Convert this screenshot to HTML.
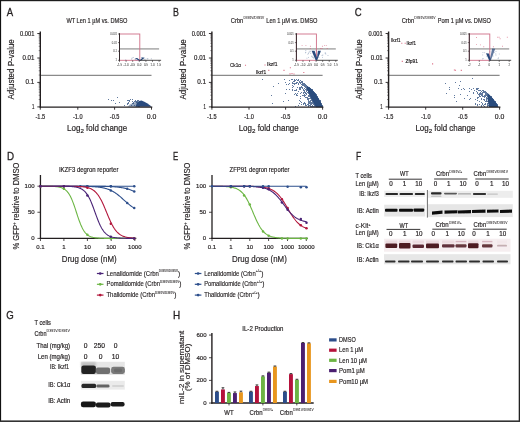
<!DOCTYPE html>
<html><head><meta charset="utf-8"><style>
html,body{margin:0;padding:0;background:#fff;width:520px;height:422px;overflow:hidden}
svg{display:block;will-change:transform}
text{font-family:"Liberation Sans", sans-serif}
</style></head><body>
<svg width="520" height="422" viewBox="0 0 520 422" font-family='"Liberation Sans", sans-serif' fill="#231f20">
<defs><filter id="bl" x="-20%" y="-60%" width="140%" height="220%"><feGaussianBlur stdDeviation="0.6"/></filter><filter id="b2" x="-20%" y="-20%" width="140%" height="140%"><feGaussianBlur stdDeviation="0.35"/></filter><filter id="b3" x="-20%" y="-20%" width="140%" height="140%"><feGaussianBlur stdDeviation="1.2"/></filter></defs>
<rect width="520" height="422" fill="#fff"/>
<line x1="40.30" y1="75.30" x2="151.50" y2="75.30" stroke="#8a8a8a" stroke-width="1.2"/>
<polygon points="127.5,106.8 130,104.5 134,102.5 137.5,101.3 139,106.8" fill="#2b4c7e" fill-opacity="0.5" filter="url(#b2)"/>
<polygon points="135.5,106.8 137,102.5 139,101 141.5,100.6 144.3,101.8 147.1,103.3 149.9,105.3 151.6,106.8" fill="#2b4c7e" filter="url(#b2)"/>
<path d="M137 100h1v1h-1zM128 103h1v1h-1zM134 105h1v1h-1zM139 103h1v1h-1zM134 105h1v1h-1zM132 99h1v1h-1zM129 100h1v1h-1zM139 106h1v1h-1zM127 103h1v1h-1zM124 105h1v1h-1zM138 103h1v1h-1zM132 103h1v1h-1zM138 102h1v1h-1zM134 101h1v1h-1zM139 103h1v1h-1zM132 103h1v1h-1zM133 103h1v1h-1zM135 100h1v1h-1zM132 101h1v1h-1zM127 103h1v1h-1zM127 104h1v1h-1zM135 101h1v1h-1zM136 101h1v1h-1zM130 99h1v1h-1zM131 105h1v1h-1zM137 101h1v1h-1zM136 105h1v1h-1zM128 100h1v1h-1zM136 102h1v1h-1zM129 101h1v1h-1zM138 100h1v1h-1zM138 106h1v1h-1zM138 104h1v1h-1zM137 103h1v1h-1zM127 100h1v1h-1zM138 103h1v1h-1zM133 102h1v1h-1zM138 102h1v1h-1zM128 102h1v1h-1zM136 105h1v1h-1zM119 102h1v1h-1zM117 97h1v1h-1zM115 103h1v1h-1zM108 99h1v1h-1zM111 100h1v1h-1zM113 100h1v1h-1zM117 97h1v1h-1z" fill="#2b4c7e" fill-opacity="0.75"/>
<path d="" fill="#d9607a" fill-opacity="0.9"/>
<line x1="40.30" y1="31.50" x2="40.30" y2="107.70" stroke="#231f20" stroke-width="1.4"/>
<line x1="37.30" y1="33.50" x2="40.30" y2="33.50" stroke="#231f20" stroke-width="0.9"/>
<text x="34.40" y="35.50" font-size="6.27" text-anchor="end" textLength="14.30" lengthAdjust="spacingAndGlyphs" stroke="#231f20" stroke-width="0.18">0.001</text>
<line x1="37.30" y1="58.00" x2="40.30" y2="58.00" stroke="#231f20" stroke-width="0.9"/>
<text x="34.40" y="60.00" font-size="6.27" text-anchor="end" textLength="11.90" lengthAdjust="spacingAndGlyphs" stroke="#231f20" stroke-width="0.18">0.01</text>
<line x1="37.30" y1="82.40" x2="40.30" y2="82.40" stroke="#231f20" stroke-width="0.9"/>
<text x="34.40" y="84.40" font-size="6.27" text-anchor="end" textLength="8.80" lengthAdjust="spacingAndGlyphs" stroke="#231f20" stroke-width="0.18">0.1</text>
<line x1="37.30" y1="106.90" x2="40.30" y2="106.90" stroke="#231f20" stroke-width="0.9"/>
<text x="34.40" y="108.90" font-size="6.27" text-anchor="end" textLength="2.40" lengthAdjust="spacingAndGlyphs" stroke="#231f20" stroke-width="0.18">1</text>
<line x1="38.70" y1="50.62" x2="40.30" y2="50.62" stroke="#231f20" stroke-width="0.5"/>
<line x1="38.70" y1="46.31" x2="40.30" y2="46.31" stroke="#231f20" stroke-width="0.5"/>
<line x1="38.70" y1="43.25" x2="40.30" y2="43.25" stroke="#231f20" stroke-width="0.5"/>
<line x1="38.70" y1="40.88" x2="40.30" y2="40.88" stroke="#231f20" stroke-width="0.5"/>
<line x1="38.70" y1="38.94" x2="40.30" y2="38.94" stroke="#231f20" stroke-width="0.5"/>
<line x1="38.70" y1="37.30" x2="40.30" y2="37.30" stroke="#231f20" stroke-width="0.5"/>
<line x1="38.70" y1="35.87" x2="40.30" y2="35.87" stroke="#231f20" stroke-width="0.5"/>
<line x1="38.70" y1="34.62" x2="40.30" y2="34.62" stroke="#231f20" stroke-width="0.5"/>
<line x1="38.70" y1="75.05" x2="40.30" y2="75.05" stroke="#231f20" stroke-width="0.5"/>
<line x1="38.70" y1="70.76" x2="40.30" y2="70.76" stroke="#231f20" stroke-width="0.5"/>
<line x1="38.70" y1="67.71" x2="40.30" y2="67.71" stroke="#231f20" stroke-width="0.5"/>
<line x1="38.70" y1="65.35" x2="40.30" y2="65.35" stroke="#231f20" stroke-width="0.5"/>
<line x1="38.70" y1="63.41" x2="40.30" y2="63.41" stroke="#231f20" stroke-width="0.5"/>
<line x1="38.70" y1="61.78" x2="40.30" y2="61.78" stroke="#231f20" stroke-width="0.5"/>
<line x1="38.70" y1="60.36" x2="40.30" y2="60.36" stroke="#231f20" stroke-width="0.5"/>
<line x1="38.70" y1="59.12" x2="40.30" y2="59.12" stroke="#231f20" stroke-width="0.5"/>
<line x1="38.70" y1="99.52" x2="40.30" y2="99.52" stroke="#231f20" stroke-width="0.5"/>
<line x1="38.70" y1="95.21" x2="40.30" y2="95.21" stroke="#231f20" stroke-width="0.5"/>
<line x1="38.70" y1="92.15" x2="40.30" y2="92.15" stroke="#231f20" stroke-width="0.5"/>
<line x1="38.70" y1="89.78" x2="40.30" y2="89.78" stroke="#231f20" stroke-width="0.5"/>
<line x1="38.70" y1="87.84" x2="40.30" y2="87.84" stroke="#231f20" stroke-width="0.5"/>
<line x1="38.70" y1="86.20" x2="40.30" y2="86.20" stroke="#231f20" stroke-width="0.5"/>
<line x1="38.70" y1="84.77" x2="40.30" y2="84.77" stroke="#231f20" stroke-width="0.5"/>
<line x1="38.70" y1="83.52" x2="40.30" y2="83.52" stroke="#231f20" stroke-width="0.5"/>
<line x1="39.80" y1="107.10" x2="152.30" y2="107.10" stroke="#231f20" stroke-width="1.3"/>
<line x1="40.30" y1="107.10" x2="40.30" y2="109.70" stroke="#231f20" stroke-width="0.9"/>
<text x="40.30" y="118.80" font-size="6.27" text-anchor="middle" textLength="9.60" lengthAdjust="spacingAndGlyphs" stroke="#231f20" stroke-width="0.18">-1.5</text>
<line x1="77.80" y1="107.10" x2="77.80" y2="109.70" stroke="#231f20" stroke-width="0.9"/>
<text x="77.80" y="118.80" font-size="6.27" text-anchor="middle" textLength="9.60" lengthAdjust="spacingAndGlyphs" stroke="#231f20" stroke-width="0.18">-1.0</text>
<line x1="114.60" y1="107.10" x2="114.60" y2="109.70" stroke="#231f20" stroke-width="0.9"/>
<text x="114.60" y="118.80" font-size="6.27" text-anchor="middle" textLength="9.60" lengthAdjust="spacingAndGlyphs" stroke="#231f20" stroke-width="0.18">-0.5</text>
<line x1="151.50" y1="107.10" x2="151.50" y2="109.70" stroke="#231f20" stroke-width="0.9"/>
<text x="151.50" y="118.80" font-size="6.27" text-anchor="middle" textLength="9.60" lengthAdjust="spacingAndGlyphs" stroke="#231f20" stroke-width="0.18">0.0</text>
<text x="67.10" y="130.7" font-size="9.3" fill="#231f20" stroke="#231f20" stroke-width="0.2"><tspan textLength="13.3" lengthAdjust="spacingAndGlyphs">Log</tspan><tspan font-size="6.2" dy="2.2">2</tspan><tspan dy="-2.2" textLength="43.2" lengthAdjust="spacingAndGlyphs"> fold change</tspan></text>
<text x="14.30" y="69.40" font-size="9.41" text-anchor="middle" textLength="60.40" lengthAdjust="spacingAndGlyphs" transform="rotate(-90 14.30 69.40)" stroke="#231f20" stroke-width="0.18">Adjusted P-value</text>
<text x="6.80" y="15.70" font-size="11.42" textLength="6.40" lengthAdjust="spacingAndGlyphs" stroke="#231f20" stroke-width="0.3">A</text>
<text x="66.40" y="22.90" font-size="7.39" textLength="60.90" lengthAdjust="spacingAndGlyphs" stroke="#231f20" stroke-width="0.18">WT Len 1 µM vs. DMSO</text>
<line x1="119.50" y1="48.90" x2="159.10" y2="48.90" stroke="#b4b4b4" stroke-width="1.6"/>
<path d="" fill="#d9607a" fill-opacity="0.7"/>
<rect x="119.50" y="34.0" width="20.30" height="26.3" fill="none" stroke="#cf6f88" stroke-width="0.9"/>
<path d="M134.8 58.3 L137.2 57.9 L140.2 60.3 L139.2 60.8 Z M142.6 57.5 L144.8 57.8 L140.8 60.8 L139.8 60.3 Z" fill="#2b4c7e" filter="url(#b2)"/><rect x="131.19" y="58.63" width="0.8" height="0.8" fill="#2b4c7e" fill-opacity="0.5"/><rect x="134.62" y="58.81" width="0.8" height="0.8" fill="#2b4c7e" fill-opacity="0.5"/><rect x="141.27" y="57.20" width="0.8" height="0.8" fill="#2b4c7e" fill-opacity="0.5"/><rect x="125.34" y="59.51" width="0.8" height="0.8" fill="#2b4c7e" fill-opacity="0.5"/><rect x="131.74" y="57.70" width="0.8" height="0.8" fill="#2b4c7e" fill-opacity="0.5"/><rect x="150.89" y="58.41" width="0.8" height="0.8" fill="#2b4c7e" fill-opacity="0.5"/><rect x="146.75" y="58.43" width="0.8" height="0.8" fill="#2b4c7e" fill-opacity="0.5"/><rect x="141.62" y="57.45" width="0.8" height="0.8" fill="#2b4c7e" fill-opacity="0.5"/><rect x="141.51" y="59.60" width="0.8" height="0.8" fill="#2b4c7e" fill-opacity="0.5"/><rect x="138.60" y="59.22" width="0.8" height="0.8" fill="#2b4c7e" fill-opacity="0.5"/><rect x="142.46" y="57.19" width="0.8" height="0.8" fill="#2b4c7e" fill-opacity="0.5"/><rect x="144.71" y="58.77" width="0.8" height="0.8" fill="#2b4c7e" fill-opacity="0.5"/><rect x="132.83" y="57.09" width="0.8" height="0.8" fill="#2b4c7e" fill-opacity="0.5"/><rect x="147.50" y="58.42" width="0.8" height="0.8" fill="#2b4c7e" fill-opacity="0.5"/><rect x="143.69" y="59.64" width="0.8" height="0.8" fill="#2b4c7e" fill-opacity="0.5"/><rect x="143.57" y="59.76" width="0.8" height="0.8" fill="#2b4c7e" fill-opacity="0.5"/><rect x="135.27" y="59.40" width="0.8" height="0.8" fill="#2b4c7e" fill-opacity="0.5"/><rect x="136.56" y="59.81" width="0.8" height="0.8" fill="#2b4c7e" fill-opacity="0.5"/>
<line x1="119.50" y1="33.20" x2="119.50" y2="60.60" stroke="#231f20" stroke-width="0.9"/>
<line x1="118.00" y1="34.00" x2="119.50" y2="34.00" stroke="#231f20" stroke-width="0.6"/>
<line x1="118.00" y1="42.60" x2="119.50" y2="42.60" stroke="#231f20" stroke-width="0.6"/>
<line x1="118.00" y1="51.20" x2="119.50" y2="51.20" stroke="#231f20" stroke-width="0.6"/>
<line x1="118.00" y1="60.30" x2="119.50" y2="60.30" stroke="#231f20" stroke-width="0.6"/>
<text x="116.90" y="34.90" font-size="2.69" text-anchor="end" fill="#666" stroke="#666" stroke-width="0.06">0.001</text>
<text x="116.90" y="43.50" font-size="2.69" text-anchor="end" fill="#666" stroke="#666" stroke-width="0.06">0.01</text>
<text x="116.90" y="52.10" font-size="2.69" text-anchor="end" fill="#666" stroke="#666" stroke-width="0.06">0.1</text>
<text x="116.90" y="61.20" font-size="2.69" text-anchor="end" fill="#666" stroke="#666" stroke-width="0.06">1</text>
<line x1="139.80" y1="60.30" x2="161.10" y2="60.30" stroke="#231f20" stroke-width="0.8"/>
<line x1="119.50" y1="60.30" x2="119.50" y2="61.90" stroke="#231f20" stroke-width="0.6"/>
<text x="119.50" y="66.40" font-size="2.91" text-anchor="middle" fill="#555" stroke="#555" stroke-width="0.06">-1.5</text>
<line x1="126.10" y1="60.30" x2="126.10" y2="61.90" stroke="#231f20" stroke-width="0.6"/>
<text x="126.10" y="66.40" font-size="2.91" text-anchor="middle" fill="#555" stroke="#555" stroke-width="0.06">-1.0</text>
<line x1="132.70" y1="60.30" x2="132.70" y2="61.90" stroke="#231f20" stroke-width="0.6"/>
<text x="132.70" y="66.40" font-size="2.91" text-anchor="middle" fill="#555" stroke="#555" stroke-width="0.06">-0.5</text>
<line x1="139.30" y1="60.30" x2="139.30" y2="61.90" stroke="#231f20" stroke-width="0.6"/>
<text x="139.30" y="66.40" font-size="2.91" text-anchor="middle" fill="#555" stroke="#555" stroke-width="0.06">0.0</text>
<line x1="145.90" y1="60.30" x2="145.90" y2="61.90" stroke="#231f20" stroke-width="0.6"/>
<text x="145.90" y="66.40" font-size="2.91" text-anchor="middle" fill="#555" stroke="#555" stroke-width="0.06">0.5</text>
<line x1="152.50" y1="60.30" x2="152.50" y2="61.90" stroke="#231f20" stroke-width="0.6"/>
<text x="152.50" y="66.40" font-size="2.91" text-anchor="middle" fill="#555" stroke="#555" stroke-width="0.06">1.0</text>
<line x1="159.10" y1="60.30" x2="159.10" y2="61.90" stroke="#231f20" stroke-width="0.6"/>
<text x="159.10" y="66.40" font-size="2.91" text-anchor="middle" fill="#555" stroke="#555" stroke-width="0.06">1.5</text>
<line x1="211.90" y1="75.30" x2="322.60" y2="75.30" stroke="#8a8a8a" stroke-width="1.2"/>
<polygon points="307,86.2 309,87 312,89.5 315,93 318,97.5 320.5,101.5 322.8,107.2 316,107.2 313,102 310.5,97 308.5,92.5 306.8,89" fill="#2b4c7e" filter="url(#b2)"/>
<path d="M300 80h1v1h-1zM317 102h1v1h-1zM307 87h1v1h-1zM315 96h1v1h-1zM318 98h1v1h-1zM314 96h1v1h-1zM310 91h1v1h-1zM315 98h1v1h-1zM310 105h1v1h-1zM317 100h1v1h-1zM313 101h1v1h-1zM311 94h1v1h-1zM319 100h1v1h-1zM295 83h1v1h-1zM314 105h1v1h-1zM319 104h1v1h-1zM305 85h1v1h-1zM309 89h1v1h-1zM310 88h1v1h-1zM315 100h1v1h-1zM320 103h1v1h-1zM308 93h1v1h-1zM304 84h1v1h-1zM315 95h1v1h-1zM315 95h1v1h-1zM309 89h1v1h-1zM317 101h1v1h-1zM320 105h1v1h-1zM319 102h1v1h-1zM301 86h1v1h-1zM318 99h1v1h-1zM318 102h1v1h-1zM312 91h1v1h-1zM307 97h1v1h-1zM307 104h1v1h-1zM313 100h1v1h-1zM318 105h1v1h-1zM317 97h1v1h-1zM316 96h1v1h-1zM320 103h1v1h-1zM319 104h1v1h-1zM314 99h1v1h-1zM315 97h1v1h-1zM298 83h1v1h-1zM312 99h1v1h-1zM308 88h1v1h-1zM317 103h1v1h-1zM308 88h1v1h-1zM294 81h1v1h-1zM318 99h1v1h-1zM316 101h1v1h-1zM314 94h1v1h-1zM311 100h1v1h-1zM297 95h1v1h-1zM308 98h1v1h-1zM311 99h1v1h-1zM314 97h1v1h-1zM310 91h1v1h-1zM313 96h1v1h-1zM321 105h1v1h-1zM319 101h1v1h-1zM311 89h1v1h-1zM308 98h1v1h-1zM316 98h1v1h-1zM313 102h1v1h-1zM314 92h1v1h-1zM315 98h1v1h-1zM314 97h1v1h-1zM318 100h1v1h-1zM319 104h1v1h-1zM316 95h1v1h-1zM304 84h1v1h-1zM312 90h1v1h-1zM299 82h1v1h-1zM298 80h1v1h-1zM295 90h1v1h-1zM303 85h1v1h-1zM310 88h1v1h-1zM311 99h1v1h-1zM307 87h1v1h-1zM318 101h1v1h-1zM322 105h1v1h-1zM298 79h1v1h-1zM294 80h1v1h-1zM303 104h1v1h-1zM318 102h1v1h-1zM315 104h1v1h-1zM310 89h1v1h-1zM318 100h1v1h-1zM319 100h1v1h-1zM309 103h1v1h-1zM316 99h1v1h-1zM317 105h1v1h-1zM297 82h1v1h-1zM306 85h1v1h-1zM317 96h1v1h-1zM314 93h1v1h-1zM285 82h1v1h-1zM309 96h1v1h-1zM316 103h1v1h-1zM304 91h1v1h-1zM310 92h1v1h-1zM313 99h1v1h-1zM314 95h1v1h-1zM319 106h1v1h-1zM308 106h1v1h-1zM300 93h1v1h-1zM308 104h1v1h-1zM298 84h1v1h-1zM310 96h1v1h-1zM318 99h1v1h-1zM294 81h1v1h-1zM319 106h1v1h-1zM310 91h1v1h-1zM319 103h1v1h-1zM294 79h1v1h-1zM315 93h1v1h-1zM306 88h1v1h-1zM312 90h1v1h-1zM319 101h1v1h-1zM314 94h1v1h-1zM318 103h1v1h-1zM317 101h1v1h-1zM314 93h1v1h-1zM313 94h1v1h-1zM305 93h1v1h-1zM312 96h1v1h-1zM314 94h1v1h-1zM304 96h1v1h-1zM319 102h1v1h-1zM320 105h1v1h-1zM311 89h1v1h-1zM302 84h1v1h-1zM320 105h1v1h-1zM310 92h1v1h-1zM310 105h1v1h-1zM317 97h1v1h-1zM296 83h1v1h-1zM305 103h1v1h-1zM315 93h1v1h-1zM307 86h1v1h-1zM320 104h1v1h-1zM320 106h1v1h-1zM315 105h1v1h-1zM307 87h1v1h-1zM312 94h1v1h-1zM316 102h1v1h-1zM320 104h1v1h-1zM321 105h1v1h-1zM307 86h1v1h-1zM311 106h1v1h-1zM292 82h1v1h-1zM311 98h1v1h-1zM308 91h1v1h-1zM309 89h1v1h-1zM312 105h1v1h-1zM304 86h1v1h-1zM313 99h1v1h-1zM310 91h1v1h-1zM310 93h1v1h-1zM320 102h1v1h-1zM301 102h1v1h-1zM307 89h1v1h-1zM311 103h1v1h-1zM317 98h1v1h-1zM312 93h1v1h-1zM315 95h1v1h-1zM301 82h1v1h-1zM304 86h1v1h-1zM315 104h1v1h-1zM308 102h1v1h-1zM320 103h1v1h-1zM320 101h1v1h-1zM302 84h1v1h-1zM310 93h1v1h-1zM317 97h1v1h-1zM321 106h1v1h-1zM322 106h1v1h-1zM303 92h1v1h-1zM317 101h1v1h-1zM314 93h1v1h-1zM319 102h1v1h-1zM318 106h1v1h-1zM294 84h1v1h-1zM309 96h1v1h-1zM314 104h1v1h-1zM303 84h1v1h-1zM299 87h1v1h-1zM309 105h1v1h-1zM311 90h1v1h-1zM318 102h1v1h-1zM310 89h1v1h-1zM309 88h1v1h-1zM310 95h1v1h-1zM313 95h1v1h-1zM316 102h1v1h-1zM309 98h1v1h-1zM295 106h1v1h-1zM308 92h1v1h-1zM312 95h1v1h-1zM317 102h1v1h-1zM317 102h1v1h-1zM298 84h1v1h-1zM304 94h1v1h-1zM299 103h1v1h-1zM319 102h1v1h-1zM315 99h1v1h-1zM310 94h1v1h-1zM315 94h1v1h-1zM309 94h1v1h-1zM316 95h1v1h-1zM310 92h1v1h-1zM300 83h1v1h-1zM318 104h1v1h-1zM310 90h1v1h-1zM312 92h1v1h-1zM317 105h1v1h-1zM313 93h1v1h-1zM315 106h1v1h-1zM315 104h1v1h-1zM316 99h1v1h-1zM315 106h1v1h-1zM313 99h1v1h-1zM316 95h1v1h-1zM318 102h1v1h-1zM286 84h1v1h-1zM312 99h1v1h-1zM317 97h1v1h-1zM321 103h1v1h-1zM286 89h1v1h-1zM310 95h1v1h-1zM318 98h1v1h-1zM297 93h1v1h-1zM307 88h1v1h-1zM319 101h1v1h-1zM311 90h1v1h-1zM311 94h1v1h-1zM308 87h1v1h-1zM306 88h1v1h-1zM316 99h1v1h-1zM301 87h1v1h-1zM301 92h1v1h-1zM313 95h1v1h-1zM319 106h1v1h-1zM301 92h1v1h-1zM309 90h1v1h-1zM308 87h1v1h-1zM300 96h1v1h-1zM298 84h1v1h-1zM292 79h1v1h-1zM315 104h1v1h-1zM312 94h1v1h-1zM314 95h1v1h-1zM316 99h1v1h-1zM320 105h1v1h-1zM309 88h1v1h-1zM315 95h1v1h-1zM304 84h1v1h-1zM304 92h1v1h-1zM313 94h1v1h-1zM313 99h1v1h-1zM307 86h1v1h-1zM310 92h1v1h-1zM310 91h1v1h-1zM310 104h1v1h-1zM300 101h1v1h-1zM316 104h1v1h-1zM312 105h1v1h-1zM320 104h1v1h-1zM310 90h1v1h-1zM321 104h1v1h-1zM319 105h1v1h-1zM321 106h1v1h-1zM320 103h1v1h-1zM310 105h1v1h-1zM309 88h1v1h-1zM313 94h1v1h-1zM305 93h1v1h-1zM313 104h1v1h-1zM288 84h1v1h-1zM317 104h1v1h-1zM293 86h1v1h-1zM307 90h1v1h-1zM316 95h1v1h-1zM306 94h1v1h-1zM308 88h1v1h-1zM313 94h1v1h-1zM312 100h1v1h-1zM313 92h1v1h-1zM318 102h1v1h-1zM309 89h1v1h-1zM311 92h1v1h-1zM304 86h1v1h-1zM310 102h1v1h-1zM319 106h1v1h-1zM304 94h1v1h-1zM293 81h1v1h-1zM315 98h1v1h-1zM315 105h1v1h-1zM312 99h1v1h-1zM317 98h1v1h-1zM311 97h1v1h-1zM307 86h1v1h-1zM318 104h1v1h-1zM302 87h1v1h-1zM319 100h1v1h-1zM317 104h1v1h-1zM312 90h1v1h-1zM312 97h1v1h-1zM313 95h1v1h-1zM306 93h1v1h-1zM305 84h1v1h-1zM316 94h1v1h-1zM289 83h1v1h-1zM320 101h1v1h-1zM313 91h1v1h-1zM318 100h1v1h-1zM313 96h1v1h-1zM318 102h1v1h-1zM310 88h1v1h-1zM294 83h1v1h-1zM310 95h1v1h-1zM310 96h1v1h-1zM319 101h1v1h-1zM300 98h1v1h-1zM307 86h1v1h-1zM310 100h1v1h-1zM306 89h1v1h-1zM308 103h1v1h-1zM314 98h1v1h-1zM306 89h1v1h-1zM310 92h1v1h-1zM311 103h1v1h-1zM312 103h1v1h-1zM318 100h1v1h-1zM310 97h1v1h-1zM299 88h1v1h-1zM313 97h1v1h-1zM295 93h1v1h-1zM319 103h1v1h-1zM319 101h1v1h-1zM316 99h1v1h-1zM311 95h1v1h-1zM317 105h1v1h-1zM313 102h1v1h-1zM315 96h1v1h-1zM313 96h1v1h-1zM313 101h1v1h-1zM319 100h1v1h-1zM316 101h1v1h-1zM311 92h1v1h-1zM319 103h1v1h-1zM309 101h1v1h-1zM294 90h1v1h-1zM315 100h1v1h-1zM318 102h1v1h-1zM314 95h1v1h-1zM321 106h1v1h-1zM298 84h1v1h-1zM312 101h1v1h-1zM312 90h1v1h-1zM316 98h1v1h-1zM317 102h1v1h-1zM320 103h1v1h-1zM310 88h1v1h-1zM316 96h1v1h-1zM316 102h1v1h-1zM317 103h1v1h-1zM312 90h1v1h-1zM310 103h1v1h-1zM321 105h1v1h-1zM315 101h1v1h-1zM302 95h1v1h-1zM308 87h1v1h-1zM318 101h1v1h-1zM303 85h1v1h-1zM298 83h1v1h-1zM305 105h1v1h-1zM314 97h1v1h-1zM311 95h1v1h-1zM313 104h1v1h-1zM316 106h1v1h-1zM313 95h1v1h-1zM304 103h1v1h-1zM313 95h1v1h-1zM310 102h1v1h-1zM302 83h1v1h-1zM308 95h1v1h-1zM302 84h1v1h-1zM320 100h1v1h-1zM321 105h1v1h-1zM312 97h1v1h-1zM317 105h1v1h-1zM312 96h1v1h-1zM314 97h1v1h-1zM313 99h1v1h-1zM320 106h1v1h-1zM313 106h1v1h-1zM311 95h1v1h-1zM318 103h1v1h-1zM301 81h1v1h-1zM319 102h1v1h-1zM320 102h1v1h-1zM309 102h1v1h-1zM318 101h1v1h-1zM312 91h1v1h-1zM313 96h1v1h-1zM303 90h1v1h-1zM319 103h1v1h-1zM320 104h1v1h-1zM296 94h1v1h-1zM315 106h1v1h-1zM304 90h1v1h-1zM318 104h1v1h-1zM319 104h1v1h-1zM288 100h1v1h-1zM314 102h1v1h-1zM312 95h1v1h-1zM297 87h1v1h-1zM292 89h1v1h-1zM308 88h1v1h-1zM308 102h1v1h-1zM299 82h1v1h-1zM304 85h1v1h-1zM318 103h1v1h-1zM319 102h1v1h-1zM321 106h1v1h-1zM319 102h1v1h-1zM320 101h1v1h-1zM314 97h1v1h-1zM319 102h1v1h-1zM310 88h1v1h-1zM292 82h1v1h-1zM296 90h1v1h-1zM320 105h1v1h-1zM306 86h1v1h-1zM313 95h1v1h-1zM298 91h1v1h-1zM319 100h1v1h-1zM311 91h1v1h-1zM306 93h1v1h-1zM312 91h1v1h-1zM316 97h1v1h-1zM314 96h1v1h-1zM316 101h1v1h-1zM313 96h1v1h-1zM313 92h1v1h-1zM319 101h1v1h-1zM310 90h1v1h-1zM312 95h1v1h-1zM315 105h1v1h-1zM300 88h1v1h-1zM316 104h1v1h-1zM316 106h1v1h-1zM319 102h1v1h-1zM313 94h1v1h-1zM315 102h1v1h-1zM316 96h1v1h-1zM310 95h1v1h-1zM306 90h1v1h-1zM315 95h1v1h-1zM312 91h1v1h-1zM320 101h1v1h-1zM317 102h1v1h-1zM312 100h1v1h-1zM320 105h1v1h-1zM314 104h1v1h-1zM314 93h1v1h-1zM308 87h1v1h-1zM317 99h1v1h-1zM298 105h1v1h-1zM313 101h1v1h-1zM321 104h1v1h-1zM308 87h1v1h-1zM315 95h1v1h-1zM320 105h1v1h-1zM308 96h1v1h-1zM308 87h1v1h-1zM318 99h1v1h-1zM312 102h1v1h-1zM321 105h1v1h-1zM317 103h1v1h-1zM311 94h1v1h-1zM317 106h1v1h-1zM318 102h1v1h-1zM319 104h1v1h-1zM312 89h1v1h-1zM318 99h1v1h-1zM306 94h1v1h-1zM316 97h1v1h-1zM318 105h1v1h-1zM305 87h1v1h-1zM301 104h1v1h-1zM318 100h1v1h-1zM316 101h1v1h-1zM311 102h1v1h-1zM321 105h1v1h-1zM317 104h1v1h-1zM321 106h1v1h-1zM320 101h1v1h-1zM310 101h1v1h-1zM314 94h1v1h-1zM318 104h1v1h-1zM313 103h1v1h-1zM313 92h1v1h-1zM301 84h1v1h-1zM310 93h1v1h-1zM304 91h1v1h-1zM315 98h1v1h-1zM319 105h1v1h-1zM308 100h1v1h-1zM314 98h1v1h-1zM313 96h1v1h-1zM305 86h1v1h-1zM304 95h1v1h-1zM311 92h1v1h-1zM306 91h1v1h-1zM321 106h1v1h-1zM301 81h1v1h-1zM319 105h1v1h-1zM310 106h1v1h-1zM315 94h1v1h-1zM307 87h1v1h-1zM289 80h1v1h-1zM318 102h1v1h-1zM316 100h1v1h-1zM308 88h1v1h-1zM316 103h1v1h-1zM314 96h1v1h-1zM309 95h1v1h-1zM313 102h1v1h-1zM315 100h1v1h-1zM313 98h1v1h-1zM307 98h1v1h-1zM315 94h1v1h-1zM314 97h1v1h-1zM314 92h1v1h-1zM319 102h1v1h-1zM307 87h1v1h-1zM319 104h1v1h-1zM317 99h1v1h-1zM317 100h1v1h-1zM310 97h1v1h-1zM315 100h1v1h-1zM305 84h1v1h-1zM312 105h1v1h-1zM319 103h1v1h-1zM306 89h1v1h-1zM316 96h1v1h-1zM306 97h1v1h-1zM312 100h1v1h-1zM317 97h1v1h-1zM315 99h1v1h-1zM304 102h1v1h-1zM320 106h1v1h-1zM313 101h1v1h-1zM308 88h1v1h-1zM314 98h1v1h-1zM310 92h1v1h-1zM302 81h1v1h-1zM303 95h1v1h-1zM319 101h1v1h-1zM311 93h1v1h-1zM318 99h1v1h-1zM307 99h1v1h-1zM314 93h1v1h-1zM292 85h1v1h-1zM303 93h1v1h-1zM317 99h1v1h-1zM316 97h1v1h-1zM313 97h1v1h-1zM313 95h1v1h-1zM313 101h1v1h-1zM317 97h1v1h-1zM308 88h1v1h-1zM303 83h1v1h-1zM310 93h1v1h-1zM306 105h1v1h-1zM319 100h1v1h-1zM317 101h1v1h-1zM291 79h1v1h-1zM312 98h1v1h-1zM313 101h1v1h-1zM311 106h1v1h-1zM317 97h1v1h-1zM311 104h1v1h-1zM303 84h1v1h-1zM305 89h1v1h-1zM310 90h1v1h-1zM318 106h1v1h-1zM305 92h1v1h-1zM316 95h1v1h-1zM304 86h1v1h-1zM314 92h1v1h-1zM310 89h1v1h-1zM308 87h1v1h-1zM307 92h1v1h-1zM317 97h1v1h-1zM320 104h1v1h-1zM316 97h1v1h-1zM317 98h1v1h-1zM318 99h1v1h-1zM316 106h1v1h-1zM321 106h1v1h-1zM302 82h1v1h-1zM318 103h1v1h-1zM316 99h1v1h-1zM316 102h1v1h-1zM302 88h1v1h-1zM299 81h1v1h-1zM311 91h1v1h-1zM321 104h1v1h-1zM316 97h1v1h-1zM313 91h1v1h-1zM311 90h1v1h-1zM317 100h1v1h-1zM301 86h1v1h-1zM317 104h1v1h-1zM319 103h1v1h-1zM293 83h1v1h-1zM315 101h1v1h-1zM311 93h1v1h-1zM317 97h1v1h-1zM312 106h1v1h-1zM315 98h1v1h-1zM317 102h1v1h-1zM315 99h1v1h-1zM309 93h1v1h-1zM306 91h1v1h-1zM319 105h1v1h-1zM296 89h1v1h-1zM306 89h1v1h-1zM292 87h1v1h-1zM309 88h1v1h-1zM300 89h1v1h-1zM305 104h1v1h-1zM308 105h1v1h-1zM299 89h1v1h-1zM316 95h1v1h-1zM315 93h1v1h-1zM308 101h1v1h-1zM308 89h1v1h-1zM312 94h1v1h-1zM284 79h1v1h-1zM314 100h1v1h-1zM304 90h1v1h-1zM309 87h1v1h-1zM321 104h1v1h-1zM313 94h1v1h-1zM317 100h1v1h-1zM311 104h1v1h-1zM294 94h1v1h-1zM296 79h1v1h-1zM308 95h1v1h-1zM306 87h1v1h-1zM316 100h1v1h-1zM316 95h1v1h-1zM312 97h1v1h-1zM319 102h1v1h-1zM312 98h1v1h-1zM314 95h1v1h-1zM315 97h1v1h-1zM320 102h1v1h-1zM302 88h1v1h-1zM306 91h1v1h-1zM310 102h1v1h-1zM311 102h1v1h-1zM292 90h1v1h-1zM308 90h1v1h-1zM312 95h1v1h-1zM305 95h1v1h-1zM317 101h1v1h-1zM314 99h1v1h-1zM304 84h1v1h-1zM320 104h1v1h-1zM315 97h1v1h-1zM318 99h1v1h-1zM320 101h1v1h-1zM307 88h1v1h-1zM320 103h1v1h-1zM314 94h1v1h-1zM312 96h1v1h-1zM315 94h1v1h-1zM315 98h1v1h-1zM317 104h1v1h-1zM318 105h1v1h-1zM318 101h1v1h-1zM308 89h1v1h-1zM314 106h1v1h-1zM300 93h1v1h-1zM321 105h1v1h-1zM318 104h1v1h-1zM295 80h1v1h-1zM316 98h1v1h-1zM311 90h1v1h-1zM316 96h1v1h-1zM320 102h1v1h-1zM310 89h1v1h-1zM314 93h1v1h-1zM319 102h1v1h-1zM309 87h1v1h-1zM311 95h1v1h-1zM319 102h1v1h-1zM300 87h1v1h-1zM318 98h1v1h-1zM308 99h1v1h-1zM310 96h1v1h-1zM308 95h1v1h-1zM310 88h1v1h-1zM316 96h1v1h-1zM320 103h1v1h-1zM312 105h1v1h-1zM319 104h1v1h-1zM320 103h1v1h-1zM309 98h1v1h-1zM317 105h1v1h-1zM302 85h1v1h-1zM312 91h1v1h-1zM319 106h1v1h-1zM296 82h1v1h-1zM304 85h1v1h-1zM312 91h1v1h-1zM310 88h1v1h-1zM313 93h1v1h-1zM319 104h1v1h-1zM315 93h1v1h-1zM315 101h1v1h-1zM314 100h1v1h-1zM314 94h1v1h-1zM311 92h1v1h-1zM312 105h1v1h-1zM310 91h1v1h-1zM300 82h1v1h-1zM312 98h1v1h-1zM304 83h1v1h-1zM303 103h1v1h-1zM304 88h1v1h-1zM317 102h1v1h-1zM299 88h1v1h-1zM320 104h1v1h-1zM314 103h1v1h-1zM306 90h1v1h-1zM317 97h1v1h-1zM297 80h1v1h-1zM305 97h1v1h-1zM314 105h1v1h-1zM310 98h1v1h-1zM315 104h1v1h-1zM317 97h1v1h-1zM303 89h1v1h-1zM317 104h1v1h-1zM299 81h1v1h-1zM316 98h1v1h-1zM313 92h1v1h-1zM302 83h1v1h-1zM315 106h1v1h-1zM318 101h1v1h-1zM311 102h1v1h-1zM312 95h1v1h-1zM315 103h1v1h-1zM289 89h1v1h-1zM271 95h1v1h-1zM299 100h1v1h-1zM292 83h1v1h-1zM273 86h1v1h-1zM283 101h1v1h-1zM285 93h1v1h-1zM278 83h1v1h-1zM272 103h1v1h-1zM296 95h1v1h-1zM288 84h1v1h-1zM262 79h1v1h-1z" fill="#2b4c7e" fill-opacity="0.75"/>
<path d="M244.95 64.65h1.1v1.1h-1.1zM264.45 64.45h1.1v1.1h-1.1zM268.25 69.85h1.1v1.1h-1.1zM283.45 69.85h1.1v1.1h-1.1zM289.85 67.25h1.1v1.1h-1.1zM289.45 73.35h1.1v1.1h-1.1zM293.45 73.45h1.1v1.1h-1.1zM291.45 72.95h1.1v1.1h-1.1zM303.25 71.95h1.1v1.1h-1.1z" fill="#d9607a" fill-opacity="0.9"/>
<line x1="211.90" y1="31.50" x2="211.90" y2="107.70" stroke="#231f20" stroke-width="1.4"/>
<line x1="208.90" y1="33.50" x2="211.90" y2="33.50" stroke="#231f20" stroke-width="0.9"/>
<text x="206.00" y="35.50" font-size="6.27" text-anchor="end" textLength="14.30" lengthAdjust="spacingAndGlyphs" stroke="#231f20" stroke-width="0.18">0.001</text>
<line x1="208.90" y1="58.00" x2="211.90" y2="58.00" stroke="#231f20" stroke-width="0.9"/>
<text x="206.00" y="60.00" font-size="6.27" text-anchor="end" textLength="11.90" lengthAdjust="spacingAndGlyphs" stroke="#231f20" stroke-width="0.18">0.01</text>
<line x1="208.90" y1="82.40" x2="211.90" y2="82.40" stroke="#231f20" stroke-width="0.9"/>
<text x="206.00" y="84.40" font-size="6.27" text-anchor="end" textLength="8.80" lengthAdjust="spacingAndGlyphs" stroke="#231f20" stroke-width="0.18">0.1</text>
<line x1="208.90" y1="106.90" x2="211.90" y2="106.90" stroke="#231f20" stroke-width="0.9"/>
<text x="206.00" y="108.90" font-size="6.27" text-anchor="end" textLength="2.40" lengthAdjust="spacingAndGlyphs" stroke="#231f20" stroke-width="0.18">1</text>
<line x1="210.30" y1="50.62" x2="211.90" y2="50.62" stroke="#231f20" stroke-width="0.5"/>
<line x1="210.30" y1="46.31" x2="211.90" y2="46.31" stroke="#231f20" stroke-width="0.5"/>
<line x1="210.30" y1="43.25" x2="211.90" y2="43.25" stroke="#231f20" stroke-width="0.5"/>
<line x1="210.30" y1="40.88" x2="211.90" y2="40.88" stroke="#231f20" stroke-width="0.5"/>
<line x1="210.30" y1="38.94" x2="211.90" y2="38.94" stroke="#231f20" stroke-width="0.5"/>
<line x1="210.30" y1="37.30" x2="211.90" y2="37.30" stroke="#231f20" stroke-width="0.5"/>
<line x1="210.30" y1="35.87" x2="211.90" y2="35.87" stroke="#231f20" stroke-width="0.5"/>
<line x1="210.30" y1="34.62" x2="211.90" y2="34.62" stroke="#231f20" stroke-width="0.5"/>
<line x1="210.30" y1="75.05" x2="211.90" y2="75.05" stroke="#231f20" stroke-width="0.5"/>
<line x1="210.30" y1="70.76" x2="211.90" y2="70.76" stroke="#231f20" stroke-width="0.5"/>
<line x1="210.30" y1="67.71" x2="211.90" y2="67.71" stroke="#231f20" stroke-width="0.5"/>
<line x1="210.30" y1="65.35" x2="211.90" y2="65.35" stroke="#231f20" stroke-width="0.5"/>
<line x1="210.30" y1="63.41" x2="211.90" y2="63.41" stroke="#231f20" stroke-width="0.5"/>
<line x1="210.30" y1="61.78" x2="211.90" y2="61.78" stroke="#231f20" stroke-width="0.5"/>
<line x1="210.30" y1="60.36" x2="211.90" y2="60.36" stroke="#231f20" stroke-width="0.5"/>
<line x1="210.30" y1="59.12" x2="211.90" y2="59.12" stroke="#231f20" stroke-width="0.5"/>
<line x1="210.30" y1="99.52" x2="211.90" y2="99.52" stroke="#231f20" stroke-width="0.5"/>
<line x1="210.30" y1="95.21" x2="211.90" y2="95.21" stroke="#231f20" stroke-width="0.5"/>
<line x1="210.30" y1="92.15" x2="211.90" y2="92.15" stroke="#231f20" stroke-width="0.5"/>
<line x1="210.30" y1="89.78" x2="211.90" y2="89.78" stroke="#231f20" stroke-width="0.5"/>
<line x1="210.30" y1="87.84" x2="211.90" y2="87.84" stroke="#231f20" stroke-width="0.5"/>
<line x1="210.30" y1="86.20" x2="211.90" y2="86.20" stroke="#231f20" stroke-width="0.5"/>
<line x1="210.30" y1="84.77" x2="211.90" y2="84.77" stroke="#231f20" stroke-width="0.5"/>
<line x1="210.30" y1="83.52" x2="211.90" y2="83.52" stroke="#231f20" stroke-width="0.5"/>
<line x1="211.40" y1="107.10" x2="323.40" y2="107.10" stroke="#231f20" stroke-width="1.3"/>
<line x1="211.90" y1="107.10" x2="211.90" y2="109.70" stroke="#231f20" stroke-width="0.9"/>
<text x="211.90" y="118.80" font-size="6.27" text-anchor="middle" textLength="9.60" lengthAdjust="spacingAndGlyphs" stroke="#231f20" stroke-width="0.18">-1.5</text>
<line x1="249.00" y1="107.10" x2="249.00" y2="109.70" stroke="#231f20" stroke-width="0.9"/>
<text x="249.00" y="118.80" font-size="6.27" text-anchor="middle" textLength="9.60" lengthAdjust="spacingAndGlyphs" stroke="#231f20" stroke-width="0.18">-1.0</text>
<line x1="285.60" y1="107.10" x2="285.60" y2="109.70" stroke="#231f20" stroke-width="0.9"/>
<text x="285.60" y="118.80" font-size="6.27" text-anchor="middle" textLength="9.60" lengthAdjust="spacingAndGlyphs" stroke="#231f20" stroke-width="0.18">-0.5</text>
<line x1="322.60" y1="107.10" x2="322.60" y2="109.70" stroke="#231f20" stroke-width="0.9"/>
<text x="322.60" y="118.80" font-size="6.27" text-anchor="middle" textLength="9.60" lengthAdjust="spacingAndGlyphs" stroke="#231f20" stroke-width="0.18">0.0</text>
<text x="238.70" y="130.7" font-size="9.3" fill="#231f20" stroke="#231f20" stroke-width="0.2"><tspan textLength="13.3" lengthAdjust="spacingAndGlyphs">Log</tspan><tspan font-size="6.2" dy="2.2">2</tspan><tspan dy="-2.2" textLength="43.2" lengthAdjust="spacingAndGlyphs"> fold change</tspan></text>
<text x="186.00" y="69.40" font-size="9.41" text-anchor="middle" textLength="60.40" lengthAdjust="spacingAndGlyphs" transform="rotate(-90 186.00 69.40)" stroke="#231f20" stroke-width="0.18">Adjusted P-value</text>
<text x="229.90" y="66.80" font-size="6.05" textLength="11.20" lengthAdjust="spacingAndGlyphs" stroke="#231f20" stroke-width="0.18">Ck1α</text>
<text x="267.00" y="65.80" font-size="6.05" textLength="10.50" lengthAdjust="spacingAndGlyphs" stroke="#231f20" stroke-width="0.18">Ikzf1</text>
<text x="255.80" y="73.60" font-size="6.05" textLength="10.40" lengthAdjust="spacingAndGlyphs" stroke="#231f20" stroke-width="0.18">Ikzf1</text>
<text x="172.90" y="15.90" font-size="11.42" textLength="5.90" lengthAdjust="spacingAndGlyphs" stroke="#231f20" stroke-width="0.3">B</text>
<text x="230.80" y="22.60" font-size="7.39" textLength="12.50" lengthAdjust="spacingAndGlyphs" stroke="#231f20" stroke-width="0.18">Crbn</text>
<text x="243.50" y="19.00" font-size="3.81" textLength="20.80" lengthAdjust="spacingAndGlyphs" stroke="#231f20" stroke-width="0.06">D391V/D391V</text>
<text x="266.30" y="22.60" font-size="7.39" textLength="51.00" lengthAdjust="spacingAndGlyphs" stroke="#231f20" stroke-width="0.18">Len 1 µM vs. DMSO</text>
<line x1="296.40" y1="48.90" x2="335.80" y2="48.90" stroke="#b4b4b4" stroke-width="1.6"/>
<path d="M301.65 44.95h0.9v0.9h-0.9zM305.45 44.95h0.9v0.9h-0.9zM309.95 45.75h0.9v0.9h-0.9zM309.85 48.05h0.9v0.9h-0.9zM320.25 48.05h0.9v0.9h-0.9zM321.55 48.05h0.9v0.9h-0.9zM321.95 45.75h0.9v0.9h-0.9zM324.15 44.95h0.9v0.9h-0.9zM325.85 44.95h0.9v0.9h-0.9zM326.75 48.05h0.9v0.9h-0.9z" fill="#d9607a" fill-opacity="0.7"/>
<rect x="296.40" y="34.0" width="20.00" height="26.3" fill="none" stroke="#cf6f88" stroke-width="0.9"/>
<path d="M311.60 50.80 L314.60 50.80 L317.00 57.80 L317.90 50.80 L320.90 50.80 L317.20 60.30 L315.60 60.30 Z" fill="#2b4c7e" filter="url(#b2)"/><rect x="305.41" y="51.83" width="0.8" height="0.8" fill="#2b4c7e" fill-opacity="0.45"/><rect x="327.57" y="55.19" width="0.8" height="0.8" fill="#2b4c7e" fill-opacity="0.45"/><rect x="310.07" y="50.82" width="0.8" height="0.8" fill="#2b4c7e" fill-opacity="0.45"/><rect x="305.40" y="50.12" width="0.8" height="0.8" fill="#2b4c7e" fill-opacity="0.45"/><rect x="308.12" y="53.03" width="0.8" height="0.8" fill="#2b4c7e" fill-opacity="0.45"/><rect x="308.58" y="52.06" width="0.8" height="0.8" fill="#2b4c7e" fill-opacity="0.45"/><rect x="319.38" y="51.16" width="0.8" height="0.8" fill="#2b4c7e" fill-opacity="0.45"/><rect x="308.13" y="56.95" width="0.8" height="0.8" fill="#2b4c7e" fill-opacity="0.45"/><rect x="311.45" y="55.66" width="0.8" height="0.8" fill="#2b4c7e" fill-opacity="0.45"/><rect x="311.55" y="56.27" width="0.8" height="0.8" fill="#2b4c7e" fill-opacity="0.45"/><rect x="305.23" y="52.43" width="0.8" height="0.8" fill="#2b4c7e" fill-opacity="0.45"/><rect x="324.88" y="52.63" width="0.8" height="0.8" fill="#2b4c7e" fill-opacity="0.45"/><rect x="319.64" y="51.90" width="0.8" height="0.8" fill="#2b4c7e" fill-opacity="0.45"/><rect x="307.46" y="53.82" width="0.8" height="0.8" fill="#2b4c7e" fill-opacity="0.45"/><rect x="315.53" y="50.32" width="0.8" height="0.8" fill="#2b4c7e" fill-opacity="0.45"/><rect x="317.15" y="53.81" width="0.8" height="0.8" fill="#2b4c7e" fill-opacity="0.45"/><rect x="313.26" y="56.83" width="0.8" height="0.8" fill="#2b4c7e" fill-opacity="0.45"/><rect x="325.43" y="53.67" width="0.8" height="0.8" fill="#2b4c7e" fill-opacity="0.45"/><rect x="312.01" y="56.94" width="0.8" height="0.8" fill="#2b4c7e" fill-opacity="0.45"/><rect x="322.45" y="54.61" width="0.8" height="0.8" fill="#2b4c7e" fill-opacity="0.45"/><rect x="319.12" y="53.07" width="0.8" height="0.8" fill="#2b4c7e" fill-opacity="0.45"/><rect x="321.67" y="55.20" width="0.8" height="0.8" fill="#2b4c7e" fill-opacity="0.45"/><rect x="324.76" y="52.70" width="0.8" height="0.8" fill="#2b4c7e" fill-opacity="0.45"/><rect x="306.53" y="57.79" width="0.8" height="0.8" fill="#2b4c7e" fill-opacity="0.45"/><rect x="318.48" y="57.22" width="0.8" height="0.8" fill="#2b4c7e" fill-opacity="0.45"/><rect x="322.17" y="56.94" width="0.8" height="0.8" fill="#2b4c7e" fill-opacity="0.45"/><rect x="313.29" y="57.78" width="0.8" height="0.8" fill="#2b4c7e" fill-opacity="0.45"/><rect x="319.19" y="53.67" width="0.8" height="0.8" fill="#2b4c7e" fill-opacity="0.45"/><rect x="308.86" y="50.86" width="0.8" height="0.8" fill="#2b4c7e" fill-opacity="0.45"/><rect x="310.30" y="52.88" width="0.8" height="0.8" fill="#2b4c7e" fill-opacity="0.45"/>
<line x1="296.40" y1="33.20" x2="296.40" y2="60.60" stroke="#231f20" stroke-width="0.9"/>
<line x1="294.90" y1="34.00" x2="296.40" y2="34.00" stroke="#231f20" stroke-width="0.6"/>
<line x1="294.90" y1="42.60" x2="296.40" y2="42.60" stroke="#231f20" stroke-width="0.6"/>
<line x1="294.90" y1="51.20" x2="296.40" y2="51.20" stroke="#231f20" stroke-width="0.6"/>
<line x1="294.90" y1="60.30" x2="296.40" y2="60.30" stroke="#231f20" stroke-width="0.6"/>
<text x="293.80" y="34.90" font-size="2.69" text-anchor="end" fill="#666" stroke="#666" stroke-width="0.06">0.001</text>
<text x="293.80" y="43.50" font-size="2.69" text-anchor="end" fill="#666" stroke="#666" stroke-width="0.06">0.01</text>
<text x="293.80" y="52.10" font-size="2.69" text-anchor="end" fill="#666" stroke="#666" stroke-width="0.06">0.1</text>
<text x="293.80" y="61.20" font-size="2.69" text-anchor="end" fill="#666" stroke="#666" stroke-width="0.06">1</text>
<line x1="316.40" y1="60.30" x2="337.80" y2="60.30" stroke="#231f20" stroke-width="0.8"/>
<line x1="296.40" y1="60.30" x2="296.40" y2="61.90" stroke="#231f20" stroke-width="0.6"/>
<text x="296.40" y="66.40" font-size="2.91" text-anchor="middle" fill="#555" stroke="#555" stroke-width="0.06">-1.5</text>
<line x1="302.97" y1="60.30" x2="302.97" y2="61.90" stroke="#231f20" stroke-width="0.6"/>
<text x="302.97" y="66.40" font-size="2.91" text-anchor="middle" fill="#555" stroke="#555" stroke-width="0.06">-1.0</text>
<line x1="309.53" y1="60.30" x2="309.53" y2="61.90" stroke="#231f20" stroke-width="0.6"/>
<text x="309.53" y="66.40" font-size="2.91" text-anchor="middle" fill="#555" stroke="#555" stroke-width="0.06">-0.5</text>
<line x1="316.10" y1="60.30" x2="316.10" y2="61.90" stroke="#231f20" stroke-width="0.6"/>
<text x="316.10" y="66.40" font-size="2.91" text-anchor="middle" fill="#555" stroke="#555" stroke-width="0.06">0.0</text>
<line x1="322.67" y1="60.30" x2="322.67" y2="61.90" stroke="#231f20" stroke-width="0.6"/>
<text x="322.67" y="66.40" font-size="2.91" text-anchor="middle" fill="#555" stroke="#555" stroke-width="0.06">0.5</text>
<line x1="329.23" y1="60.30" x2="329.23" y2="61.90" stroke="#231f20" stroke-width="0.6"/>
<text x="329.23" y="66.40" font-size="2.91" text-anchor="middle" fill="#555" stroke="#555" stroke-width="0.06">1.0</text>
<line x1="335.80" y1="60.30" x2="335.80" y2="61.90" stroke="#231f20" stroke-width="0.6"/>
<text x="335.80" y="66.40" font-size="2.91" text-anchor="middle" fill="#555" stroke="#555" stroke-width="0.06">1.5</text>
<line x1="388.60" y1="75.30" x2="499.60" y2="75.30" stroke="#8a8a8a" stroke-width="1.2"/>
<polygon points="487.5,93.6 488.5,93.8 492,97.5 495.5,101.8 498.6,106.9 489,107 487.5,99" fill="#2b4c7e" filter="url(#b2)"/>
<path d="M493 106h1v1h-1zM493 104h1v1h-1zM479 101h1v1h-1zM492 105h1v1h-1zM493 99h1v1h-1zM492 103h1v1h-1zM486 95h1v1h-1zM497 105h1v1h-1zM476 91h1v1h-1zM490 96h1v1h-1zM484 92h1v1h-1zM489 104h1v1h-1zM480 93h1v1h-1zM461 89h1v1h-1zM484 96h1v1h-1zM489 104h1v1h-1zM489 95h1v1h-1zM492 106h1v1h-1zM486 98h1v1h-1zM491 97h1v1h-1zM494 105h1v1h-1zM481 99h1v1h-1zM491 103h1v1h-1zM477 100h1v1h-1zM487 101h1v1h-1zM480 96h1v1h-1zM493 105h1v1h-1zM482 92h1v1h-1zM483 90h1v1h-1zM482 96h1v1h-1zM480 92h1v1h-1zM486 97h1v1h-1zM494 106h1v1h-1zM496 106h1v1h-1zM493 103h1v1h-1zM492 98h1v1h-1zM494 104h1v1h-1zM492 104h1v1h-1zM494 103h1v1h-1zM485 104h1v1h-1zM487 98h1v1h-1zM490 97h1v1h-1zM497 106h1v1h-1zM495 102h1v1h-1zM495 106h1v1h-1zM493 101h1v1h-1zM477 105h1v1h-1zM494 103h1v1h-1zM495 105h1v1h-1zM495 102h1v1h-1zM495 103h1v1h-1zM494 105h1v1h-1zM475 104h1v1h-1zM492 98h1v1h-1zM479 90h1v1h-1zM493 102h1v1h-1zM493 101h1v1h-1zM486 93h1v1h-1zM489 99h1v1h-1zM492 104h1v1h-1zM497 106h1v1h-1zM489 98h1v1h-1zM488 96h1v1h-1zM487 94h1v1h-1zM495 102h1v1h-1zM487 95h1v1h-1zM493 101h1v1h-1zM485 94h1v1h-1zM492 99h1v1h-1zM486 101h1v1h-1zM493 99h1v1h-1zM490 103h1v1h-1zM497 106h1v1h-1zM494 103h1v1h-1zM490 99h1v1h-1zM484 95h1v1h-1zM483 92h1v1h-1zM495 103h1v1h-1zM490 97h1v1h-1zM490 103h1v1h-1zM476 88h1v1h-1zM488 105h1v1h-1zM483 92h1v1h-1zM496 105h1v1h-1zM486 94h1v1h-1zM486 92h1v1h-1zM482 103h1v1h-1zM497 105h1v1h-1zM493 106h1v1h-1zM489 102h1v1h-1zM492 104h1v1h-1zM477 88h1v1h-1zM487 94h1v1h-1zM495 106h1v1h-1zM497 106h1v1h-1zM488 103h1v1h-1zM497 105h1v1h-1zM491 103h1v1h-1zM495 105h1v1h-1zM487 105h1v1h-1zM489 95h1v1h-1zM490 97h1v1h-1zM481 99h1v1h-1zM496 104h1v1h-1zM489 95h1v1h-1zM492 100h1v1h-1zM489 105h1v1h-1zM495 103h1v1h-1zM483 96h1v1h-1zM479 95h1v1h-1zM496 106h1v1h-1zM495 104h1v1h-1zM495 106h1v1h-1zM480 94h1v1h-1zM478 90h1v1h-1zM488 96h1v1h-1zM491 101h1v1h-1zM482 90h1v1h-1zM493 100h1v1h-1zM486 93h1v1h-1zM486 93h1v1h-1zM484 97h1v1h-1zM486 95h1v1h-1zM488 96h1v1h-1zM493 99h1v1h-1zM485 94h1v1h-1zM489 96h1v1h-1zM489 103h1v1h-1zM486 99h1v1h-1zM496 104h1v1h-1zM484 91h1v1h-1zM473 93h1v1h-1zM471 89h1v1h-1zM487 93h1v1h-1zM495 105h1v1h-1zM484 106h1v1h-1zM488 101h1v1h-1zM495 101h1v1h-1zM490 103h1v1h-1zM482 96h1v1h-1zM478 94h1v1h-1zM481 106h1v1h-1zM490 98h1v1h-1zM485 95h1v1h-1zM485 94h1v1h-1zM495 104h1v1h-1zM483 105h1v1h-1zM481 93h1v1h-1zM495 104h1v1h-1zM478 90h1v1h-1zM492 101h1v1h-1zM490 102h1v1h-1zM481 105h1v1h-1zM488 99h1v1h-1zM479 93h1v1h-1zM488 103h1v1h-1zM496 104h1v1h-1zM495 105h1v1h-1zM492 102h1v1h-1zM497 104h1v1h-1zM487 94h1v1h-1zM494 104h1v1h-1zM493 103h1v1h-1zM485 93h1v1h-1zM469 99h1v1h-1zM485 101h1v1h-1zM495 104h1v1h-1zM493 103h1v1h-1zM494 103h1v1h-1zM479 104h1v1h-1zM486 100h1v1h-1zM492 102h1v1h-1zM494 105h1v1h-1zM478 88h1v1h-1zM481 94h1v1h-1zM493 100h1v1h-1zM490 100h1v1h-1zM487 94h1v1h-1zM491 101h1v1h-1zM476 89h1v1h-1zM482 104h1v1h-1zM490 101h1v1h-1zM473 88h1v1h-1zM485 92h1v1h-1zM496 105h1v1h-1zM493 104h1v1h-1zM492 100h1v1h-1zM493 104h1v1h-1zM492 106h1v1h-1zM485 94h1v1h-1zM496 104h1v1h-1zM488 98h1v1h-1zM485 96h1v1h-1zM485 92h1v1h-1zM476 89h1v1h-1zM488 95h1v1h-1zM492 105h1v1h-1zM487 106h1v1h-1zM483 90h1v1h-1zM482 94h1v1h-1zM484 104h1v1h-1zM485 93h1v1h-1zM493 104h1v1h-1zM484 99h1v1h-1zM478 97h1v1h-1zM486 95h1v1h-1zM493 101h1v1h-1zM483 90h1v1h-1zM491 100h1v1h-1zM494 102h1v1h-1zM493 106h1v1h-1zM489 103h1v1h-1zM491 99h1v1h-1zM491 102h1v1h-1zM487 94h1v1h-1zM491 98h1v1h-1zM487 103h1v1h-1zM488 101h1v1h-1zM494 103h1v1h-1zM495 105h1v1h-1zM482 90h1v1h-1zM496 105h1v1h-1zM491 99h1v1h-1zM495 103h1v1h-1zM495 103h1v1h-1zM487 104h1v1h-1zM494 105h1v1h-1zM488 103h1v1h-1zM495 104h1v1h-1zM485 103h1v1h-1zM492 101h1v1h-1zM494 101h1v1h-1zM492 104h1v1h-1zM496 103h1v1h-1zM491 98h1v1h-1zM481 91h1v1h-1zM481 102h1v1h-1zM492 100h1v1h-1zM488 95h1v1h-1zM493 102h1v1h-1zM495 104h1v1h-1zM469 88h1v1h-1zM487 95h1v1h-1zM486 94h1v1h-1zM490 96h1v1h-1zM480 90h1v1h-1zM492 102h1v1h-1zM490 101h1v1h-1zM483 91h1v1h-1zM491 98h1v1h-1zM496 106h1v1h-1zM492 105h1v1h-1zM497 106h1v1h-1zM487 96h1v1h-1zM490 101h1v1h-1zM490 96h1v1h-1zM488 100h1v1h-1zM489 97h1v1h-1zM494 103h1v1h-1zM489 95h1v1h-1zM489 96h1v1h-1zM496 105h1v1h-1zM491 96h1v1h-1zM475 103h1v1h-1zM475 99h1v1h-1zM482 90h1v1h-1zM474 90h1v1h-1zM495 106h1v1h-1zM484 95h1v1h-1zM487 101h1v1h-1zM492 98h1v1h-1zM492 104h1v1h-1zM477 89h1v1h-1zM490 98h1v1h-1zM489 96h1v1h-1zM493 105h1v1h-1zM476 88h1v1h-1zM493 99h1v1h-1zM482 95h1v1h-1zM490 104h1v1h-1zM484 100h1v1h-1zM482 92h1v1h-1zM490 105h1v1h-1zM470 98h1v1h-1zM479 93h1v1h-1zM496 103h1v1h-1zM495 102h1v1h-1zM495 104h1v1h-1zM484 100h1v1h-1zM495 103h1v1h-1zM481 93h1v1h-1zM480 92h1v1h-1zM479 94h1v1h-1zM486 94h1v1h-1zM480 90h1v1h-1zM464 98h1v1h-1zM482 90h1v1h-1zM480 90h1v1h-1zM485 94h1v1h-1zM481 91h1v1h-1zM483 92h1v1h-1zM494 106h1v1h-1zM495 105h1v1h-1zM488 101h1v1h-1zM497 105h1v1h-1zM491 106h1v1h-1zM496 103h1v1h-1zM477 92h1v1h-1zM494 101h1v1h-1zM469 91h1v1h-1zM493 101h1v1h-1zM485 95h1v1h-1zM477 97h1v1h-1zM491 101h1v1h-1zM484 96h1v1h-1zM493 103h1v1h-1zM495 103h1v1h-1zM493 106h1v1h-1zM484 92h1v1h-1zM477 104h1v1h-1zM494 105h1v1h-1zM496 106h1v1h-1zM493 104h1v1h-1zM495 103h1v1h-1zM492 98h1v1h-1zM492 102h1v1h-1zM492 105h1v1h-1zM489 97h1v1h-1zM489 97h1v1h-1zM460 94h1v1h-1zM494 106h1v1h-1zM494 103h1v1h-1zM496 106h1v1h-1zM495 103h1v1h-1zM485 91h1v1h-1zM482 93h1v1h-1zM490 102h1v1h-1zM491 101h1v1h-1zM497 104h1v1h-1zM496 104h1v1h-1zM484 97h1v1h-1zM492 100h1v1h-1zM493 103h1v1h-1zM488 100h1v1h-1zM485 93h1v1h-1zM496 105h1v1h-1zM492 99h1v1h-1zM488 97h1v1h-1zM485 96h1v1h-1zM490 106h1v1h-1zM488 98h1v1h-1zM481 95h1v1h-1zM492 98h1v1h-1zM485 94h1v1h-1zM487 96h1v1h-1zM491 100h1v1h-1zM489 103h1v1h-1zM489 105h1v1h-1zM489 102h1v1h-1zM490 97h1v1h-1zM492 101h1v1h-1zM493 106h1v1h-1zM483 99h1v1h-1zM495 106h1v1h-1zM481 98h1v1h-1zM491 104h1v1h-1zM485 94h1v1h-1zM488 96h1v1h-1zM490 97h1v1h-1zM485 92h1v1h-1zM482 94h1v1h-1zM479 96h1v1h-1zM493 105h1v1h-1zM491 102h1v1h-1zM485 96h1v1h-1zM490 96h1v1h-1zM493 100h1v1h-1zM492 99h1v1h-1zM490 105h1v1h-1zM489 98h1v1h-1zM454 95h1v1h-1zM445 83h1v1h-1zM460 81h1v1h-1zM446 93h1v1h-1zM456 101h1v1h-1zM477 93h1v1h-1zM464 89h1v1h-1zM463 88h1v1h-1zM473 92h1v1h-1zM449 89h1v1h-1zM472 78h1v1h-1zM477 98h1v1h-1zM459 85h1v1h-1zM449 87h1v1h-1zM467 95h1v1h-1zM458 88h1v1h-1zM455 82h1v1h-1zM454 97h1v1h-1z" fill="#2b4c7e" fill-opacity="0.75"/>
<path d="M401.25 42.75h1.1v1.1h-1.1zM404.65 42.75h1.1v1.1h-1.1zM401.75 60.85h1.1v1.1h-1.1zM432.05 63.35h1.1v1.1h-1.1zM453.85 69.45h1.1v1.1h-1.1zM454.95 69.65h1.1v1.1h-1.1zM460.75 69.85h1.1v1.1h-1.1z" fill="#d9607a" fill-opacity="0.9"/>
<line x1="388.60" y1="31.50" x2="388.60" y2="107.70" stroke="#231f20" stroke-width="1.4"/>
<line x1="385.60" y1="33.50" x2="388.60" y2="33.50" stroke="#231f20" stroke-width="0.9"/>
<text x="382.70" y="35.50" font-size="6.27" text-anchor="end" textLength="14.30" lengthAdjust="spacingAndGlyphs" stroke="#231f20" stroke-width="0.18">0.001</text>
<line x1="385.60" y1="58.00" x2="388.60" y2="58.00" stroke="#231f20" stroke-width="0.9"/>
<text x="382.70" y="60.00" font-size="6.27" text-anchor="end" textLength="11.90" lengthAdjust="spacingAndGlyphs" stroke="#231f20" stroke-width="0.18">0.01</text>
<line x1="385.60" y1="82.40" x2="388.60" y2="82.40" stroke="#231f20" stroke-width="0.9"/>
<text x="382.70" y="84.40" font-size="6.27" text-anchor="end" textLength="8.80" lengthAdjust="spacingAndGlyphs" stroke="#231f20" stroke-width="0.18">0.1</text>
<line x1="385.60" y1="106.90" x2="388.60" y2="106.90" stroke="#231f20" stroke-width="0.9"/>
<text x="382.70" y="108.90" font-size="6.27" text-anchor="end" textLength="2.40" lengthAdjust="spacingAndGlyphs" stroke="#231f20" stroke-width="0.18">1</text>
<line x1="387.00" y1="50.62" x2="388.60" y2="50.62" stroke="#231f20" stroke-width="0.5"/>
<line x1="387.00" y1="46.31" x2="388.60" y2="46.31" stroke="#231f20" stroke-width="0.5"/>
<line x1="387.00" y1="43.25" x2="388.60" y2="43.25" stroke="#231f20" stroke-width="0.5"/>
<line x1="387.00" y1="40.88" x2="388.60" y2="40.88" stroke="#231f20" stroke-width="0.5"/>
<line x1="387.00" y1="38.94" x2="388.60" y2="38.94" stroke="#231f20" stroke-width="0.5"/>
<line x1="387.00" y1="37.30" x2="388.60" y2="37.30" stroke="#231f20" stroke-width="0.5"/>
<line x1="387.00" y1="35.87" x2="388.60" y2="35.87" stroke="#231f20" stroke-width="0.5"/>
<line x1="387.00" y1="34.62" x2="388.60" y2="34.62" stroke="#231f20" stroke-width="0.5"/>
<line x1="387.00" y1="75.05" x2="388.60" y2="75.05" stroke="#231f20" stroke-width="0.5"/>
<line x1="387.00" y1="70.76" x2="388.60" y2="70.76" stroke="#231f20" stroke-width="0.5"/>
<line x1="387.00" y1="67.71" x2="388.60" y2="67.71" stroke="#231f20" stroke-width="0.5"/>
<line x1="387.00" y1="65.35" x2="388.60" y2="65.35" stroke="#231f20" stroke-width="0.5"/>
<line x1="387.00" y1="63.41" x2="388.60" y2="63.41" stroke="#231f20" stroke-width="0.5"/>
<line x1="387.00" y1="61.78" x2="388.60" y2="61.78" stroke="#231f20" stroke-width="0.5"/>
<line x1="387.00" y1="60.36" x2="388.60" y2="60.36" stroke="#231f20" stroke-width="0.5"/>
<line x1="387.00" y1="59.12" x2="388.60" y2="59.12" stroke="#231f20" stroke-width="0.5"/>
<line x1="387.00" y1="99.52" x2="388.60" y2="99.52" stroke="#231f20" stroke-width="0.5"/>
<line x1="387.00" y1="95.21" x2="388.60" y2="95.21" stroke="#231f20" stroke-width="0.5"/>
<line x1="387.00" y1="92.15" x2="388.60" y2="92.15" stroke="#231f20" stroke-width="0.5"/>
<line x1="387.00" y1="89.78" x2="388.60" y2="89.78" stroke="#231f20" stroke-width="0.5"/>
<line x1="387.00" y1="87.84" x2="388.60" y2="87.84" stroke="#231f20" stroke-width="0.5"/>
<line x1="387.00" y1="86.20" x2="388.60" y2="86.20" stroke="#231f20" stroke-width="0.5"/>
<line x1="387.00" y1="84.77" x2="388.60" y2="84.77" stroke="#231f20" stroke-width="0.5"/>
<line x1="387.00" y1="83.52" x2="388.60" y2="83.52" stroke="#231f20" stroke-width="0.5"/>
<line x1="388.10" y1="107.10" x2="500.40" y2="107.10" stroke="#231f20" stroke-width="1.3"/>
<line x1="388.60" y1="107.10" x2="388.60" y2="109.70" stroke="#231f20" stroke-width="0.9"/>
<text x="388.60" y="118.80" font-size="6.27" text-anchor="middle" textLength="9.60" lengthAdjust="spacingAndGlyphs" stroke="#231f20" stroke-width="0.18">-1.5</text>
<line x1="425.70" y1="107.10" x2="425.70" y2="109.70" stroke="#231f20" stroke-width="0.9"/>
<text x="425.70" y="118.80" font-size="6.27" text-anchor="middle" textLength="9.60" lengthAdjust="spacingAndGlyphs" stroke="#231f20" stroke-width="0.18">-1.0</text>
<line x1="462.70" y1="107.10" x2="462.70" y2="109.70" stroke="#231f20" stroke-width="0.9"/>
<text x="462.70" y="118.80" font-size="6.27" text-anchor="middle" textLength="9.60" lengthAdjust="spacingAndGlyphs" stroke="#231f20" stroke-width="0.18">-0.5</text>
<line x1="499.60" y1="107.10" x2="499.60" y2="109.70" stroke="#231f20" stroke-width="0.9"/>
<text x="499.60" y="118.80" font-size="6.27" text-anchor="middle" textLength="9.60" lengthAdjust="spacingAndGlyphs" stroke="#231f20" stroke-width="0.18">0.0</text>
<text x="415.40" y="130.7" font-size="9.3" fill="#231f20" stroke="#231f20" stroke-width="0.2"><tspan textLength="13.3" lengthAdjust="spacingAndGlyphs">Log</tspan><tspan font-size="6.2" dy="2.2">2</tspan><tspan dy="-2.2" textLength="43.2" lengthAdjust="spacingAndGlyphs"> fold change</tspan></text>
<text x="361.60" y="69.40" font-size="9.41" text-anchor="middle" textLength="60.40" lengthAdjust="spacingAndGlyphs" transform="rotate(-90 361.60 69.40)" stroke="#231f20" stroke-width="0.18">Adjusted P-value</text>
<text x="391.00" y="41.80" font-size="6.05" textLength="9.50" lengthAdjust="spacingAndGlyphs" stroke="#231f20" stroke-width="0.18">Ikzf1</text>
<text x="406.60" y="45.30" font-size="6.05" textLength="9.40" lengthAdjust="spacingAndGlyphs" stroke="#231f20" stroke-width="0.18">Ikzf1</text>
<text x="405.40" y="63.40" font-size="6.05" textLength="12.50" lengthAdjust="spacingAndGlyphs" stroke="#231f20" stroke-width="0.18">Zfp91</text>
<text x="354.70" y="15.90" font-size="11.42" textLength="6.90" lengthAdjust="spacingAndGlyphs" stroke="#231f20" stroke-width="0.3">C</text>
<text x="401.70" y="22.60" font-size="7.39" textLength="12.50" lengthAdjust="spacingAndGlyphs" stroke="#231f20" stroke-width="0.18">Crbn</text>
<text x="414.30" y="19.00" font-size="3.81" textLength="21.30" lengthAdjust="spacingAndGlyphs" stroke="#231f20" stroke-width="0.06">D391V/D391V</text>
<text x="437.70" y="22.60" font-size="7.39" textLength="53.10" lengthAdjust="spacingAndGlyphs" stroke="#231f20" stroke-width="0.18">Pom 1 µM vs. DMSO</text>
<line x1="469.30" y1="48.90" x2="509.20" y2="48.90" stroke="#b4b4b4" stroke-width="1.6"/>
<path d="M476.05 37.05h0.9v0.9h-0.9zM476.05 43.95h0.9v0.9h-0.9zM479.95 44.45h0.9v0.9h-0.9zM483.30 46.35h0.9v0.9h-0.9zM492.95 46.35h0.9v0.9h-0.9zM497.25 36.75h0.9v0.9h-0.9zM498.65 36.75h0.9v0.9h-0.9zM499.65 38.25h0.9v0.9h-0.9zM506.85 36.75h0.9v0.9h-0.9zM502.05 45.85h0.9v0.9h-0.9z" fill="#d9607a" fill-opacity="0.7"/>
<rect x="469.30" y="34.0" width="20.50" height="26.3" fill="none" stroke="#cf6f88" stroke-width="0.9"/>
<path d="M486.0 53.2 L488.9 53.6 L490.4 58.5 L490.2 60.5 L489.2 60.5 Z" fill="#2b4c7e" filter="url(#b2)"/><path d="M492.2 48.4 L495.2 48.8 L490.8 60.5 L489.6 60.5 Z" fill="#2b4c7e" fill-opacity="0.75" filter="url(#b2)"/><rect x="482.30" y="58.56" width="0.8" height="0.8" fill="#2b4c7e" fill-opacity="0.45"/><rect x="482.30" y="54.58" width="0.8" height="0.8" fill="#2b4c7e" fill-opacity="0.45"/><rect x="486.98" y="55.29" width="0.8" height="0.8" fill="#2b4c7e" fill-opacity="0.45"/><rect x="486.45" y="55.83" width="0.8" height="0.8" fill="#2b4c7e" fill-opacity="0.45"/><rect x="482.72" y="58.18" width="0.8" height="0.8" fill="#2b4c7e" fill-opacity="0.45"/><rect x="497.65" y="57.97" width="0.8" height="0.8" fill="#2b4c7e" fill-opacity="0.45"/><rect x="493.86" y="52.10" width="0.8" height="0.8" fill="#2b4c7e" fill-opacity="0.45"/><rect x="492.62" y="55.62" width="0.8" height="0.8" fill="#2b4c7e" fill-opacity="0.45"/><rect x="495.56" y="54.69" width="0.8" height="0.8" fill="#2b4c7e" fill-opacity="0.45"/><rect x="495.37" y="53.47" width="0.8" height="0.8" fill="#2b4c7e" fill-opacity="0.45"/><rect x="482.53" y="52.24" width="0.8" height="0.8" fill="#2b4c7e" fill-opacity="0.45"/><rect x="498.88" y="53.61" width="0.8" height="0.8" fill="#2b4c7e" fill-opacity="0.45"/><rect x="484.30" y="52.32" width="0.8" height="0.8" fill="#2b4c7e" fill-opacity="0.45"/><rect x="498.21" y="57.47" width="0.8" height="0.8" fill="#2b4c7e" fill-opacity="0.45"/><rect x="489.42" y="51.42" width="0.8" height="0.8" fill="#2b4c7e" fill-opacity="0.45"/><rect x="495.62" y="51.03" width="0.8" height="0.8" fill="#2b4c7e" fill-opacity="0.45"/>
<line x1="469.30" y1="33.20" x2="469.30" y2="60.60" stroke="#231f20" stroke-width="0.9"/>
<line x1="467.80" y1="34.00" x2="469.30" y2="34.00" stroke="#231f20" stroke-width="0.6"/>
<line x1="467.80" y1="42.60" x2="469.30" y2="42.60" stroke="#231f20" stroke-width="0.6"/>
<line x1="467.80" y1="51.20" x2="469.30" y2="51.20" stroke="#231f20" stroke-width="0.6"/>
<line x1="467.80" y1="60.30" x2="469.30" y2="60.30" stroke="#231f20" stroke-width="0.6"/>
<text x="466.70" y="34.90" font-size="2.69" text-anchor="end" fill="#666" stroke="#666" stroke-width="0.06">0.001</text>
<text x="466.70" y="43.50" font-size="2.69" text-anchor="end" fill="#666" stroke="#666" stroke-width="0.06">0.01</text>
<text x="466.70" y="52.10" font-size="2.69" text-anchor="end" fill="#666" stroke="#666" stroke-width="0.06">0.1</text>
<text x="466.70" y="61.20" font-size="2.69" text-anchor="end" fill="#666" stroke="#666" stroke-width="0.06">1</text>
<line x1="489.80" y1="60.30" x2="511.20" y2="60.30" stroke="#231f20" stroke-width="0.8"/>
<line x1="469.30" y1="60.30" x2="469.30" y2="61.90" stroke="#231f20" stroke-width="0.6"/>
<text x="469.30" y="66.40" font-size="2.91" text-anchor="middle" fill="#555" stroke="#555" stroke-width="0.06">-2</text>
<line x1="479.27" y1="60.30" x2="479.27" y2="61.90" stroke="#231f20" stroke-width="0.6"/>
<text x="479.27" y="66.40" font-size="2.91" text-anchor="middle" fill="#555" stroke="#555" stroke-width="0.06">-1</text>
<line x1="489.25" y1="60.30" x2="489.25" y2="61.90" stroke="#231f20" stroke-width="0.6"/>
<text x="489.25" y="66.40" font-size="2.91" text-anchor="middle" fill="#555" stroke="#555" stroke-width="0.06">0</text>
<line x1="499.23" y1="60.30" x2="499.23" y2="61.90" stroke="#231f20" stroke-width="0.6"/>
<text x="499.23" y="66.40" font-size="2.91" text-anchor="middle" fill="#555" stroke="#555" stroke-width="0.06">1</text>
<line x1="509.20" y1="60.30" x2="509.20" y2="61.90" stroke="#231f20" stroke-width="0.6"/>
<text x="509.20" y="66.40" font-size="2.91" text-anchor="middle" fill="#555" stroke="#555" stroke-width="0.06">2</text>
<line x1="40.45" y1="175.00" x2="40.45" y2="239.00" stroke="#231f20" stroke-width="1.3"/>
<line x1="37.45" y1="186.20" x2="40.45" y2="186.20" stroke="#231f20" stroke-width="0.8"/>
<text x="34.65" y="188.10" font-size="6.05" text-anchor="end" stroke="#231f20" stroke-width="0.18">100</text>
<line x1="37.45" y1="212.25" x2="40.45" y2="212.25" stroke="#231f20" stroke-width="0.8"/>
<text x="34.65" y="214.15" font-size="6.05" text-anchor="end" stroke="#231f20" stroke-width="0.18">50</text>
<line x1="37.45" y1="238.40" x2="40.45" y2="238.40" stroke="#231f20" stroke-width="0.8"/>
<text x="34.65" y="240.30" font-size="6.05" text-anchor="end" stroke="#231f20" stroke-width="0.18">0</text>
<line x1="39.85" y1="238.40" x2="136.30" y2="238.40" stroke="#231f20" stroke-width="1.25"/>
<line x1="40.45" y1="238.40" x2="40.45" y2="241.00" stroke="#231f20" stroke-width="0.8"/>
<text x="40.45" y="249.40" font-size="6.05" text-anchor="middle" stroke="#231f20" stroke-width="0.18">0.1</text>
<line x1="63.90" y1="238.40" x2="63.90" y2="241.00" stroke="#231f20" stroke-width="0.8"/>
<text x="63.90" y="249.40" font-size="6.05" text-anchor="middle" stroke="#231f20" stroke-width="0.18">1</text>
<line x1="87.40" y1="238.40" x2="87.40" y2="241.00" stroke="#231f20" stroke-width="0.8"/>
<text x="87.40" y="249.40" font-size="6.05" text-anchor="middle" stroke="#231f20" stroke-width="0.18">10</text>
<line x1="111.20" y1="238.40" x2="111.20" y2="241.00" stroke="#231f20" stroke-width="0.8"/>
<text x="111.20" y="249.40" font-size="6.05" text-anchor="middle" stroke="#231f20" stroke-width="0.18">100</text>
<line x1="134.80" y1="238.40" x2="134.80" y2="241.00" stroke="#231f20" stroke-width="0.8"/>
<text x="134.80" y="249.40" font-size="6.05" text-anchor="middle" stroke="#231f20" stroke-width="0.18">1000</text>
<text x="6.90" y="159.60" font-size="11.42" textLength="7.10" lengthAdjust="spacingAndGlyphs" stroke="#231f20" stroke-width="0.3">D</text>
<text x="58.90" y="172.00" font-size="6.72" textLength="59.50" lengthAdjust="spacingAndGlyphs" stroke="#231f20" stroke-width="0.18">IKZF3 degron reporter</text>
<text x="61.80" y="261.80" font-size="9.18" textLength="54.80" lengthAdjust="spacingAndGlyphs" stroke="#231f20" stroke-width="0.18">Drug dose (nM)</text>
<text x="18.80" y="206.0" font-size="8.6" text-anchor="middle" textLength="87" lengthAdjust="spacingAndGlyphs" transform="rotate(-90 18.80 206.0)" fill="#231f20" stroke="#231f20" stroke-width="0.15">% GFP<tspan font-size="5" dy="-3">+</tspan><tspan dy="3"> relative to DMSO</tspan></text>
<polyline points="40.45,186.20 41.04,186.20 41.62,186.20 42.21,186.20 42.80,186.20 43.38,186.20 43.97,186.20 44.55,186.20 45.14,186.20 45.73,186.20 46.31,186.20 46.90,186.20 47.48,186.20 48.07,186.20 48.66,186.20 49.24,186.20 49.83,186.20 50.42,186.20 51.00,186.20 51.59,186.20 52.17,186.20 52.76,186.20 53.35,186.20 53.93,186.20 54.52,186.20 55.11,186.20 55.69,186.20 56.28,186.20 56.86,186.20 57.45,186.20 58.04,186.20 58.62,186.20 59.21,186.20 59.80,186.20 60.38,186.20 60.97,186.20 61.55,186.20 62.14,186.20 62.73,186.20 63.31,186.20 63.90,186.20 64.49,186.20 65.07,186.20 65.66,186.20 66.25,186.20 66.83,186.20 67.42,186.20 68.00,186.20 68.59,186.20 69.18,186.20 69.76,186.20 70.35,186.20 70.94,186.20 71.52,186.20 72.11,186.20 72.69,186.20 73.28,186.20 73.87,186.20 74.45,186.20 75.04,186.20 75.62,186.20 76.21,186.20 76.80,186.20 77.38,186.20 77.97,186.20 78.56,186.20 79.14,186.20 79.73,186.20 80.31,186.20 80.90,186.20 81.49,186.20 82.07,186.20 82.66,186.20 83.25,186.20 83.83,186.20 84.42,186.20 85.00,186.20 85.59,186.20 86.18,186.20 86.76,186.20 87.35,186.20 87.94,186.20 88.52,186.20 89.11,186.20 89.69,186.20 90.28,186.20 90.87,186.20 91.45,186.20 92.04,186.20 92.63,186.20 93.21,186.20 93.80,186.20 94.38,186.20 94.97,186.20 95.56,186.20 96.14,186.20 96.73,186.20 97.32,186.20 97.90,186.20 98.49,186.20 99.07,186.20 99.66,186.20 100.25,186.20 100.83,186.20 101.42,186.20 102.01,186.20 102.59,186.20 103.18,186.20 103.76,186.20 104.35,186.20 104.94,186.20 105.52,186.20 106.11,186.20 106.70,186.20 107.28,186.20 107.87,186.20 108.45,186.20 109.04,186.20 109.63,186.20 110.21,186.20 110.80,186.20 111.39,186.20 111.97,186.20 112.56,186.20 113.14,186.20 113.73,186.20 114.32,186.20 114.90,186.20 115.49,186.20 116.08,186.20 116.66,186.20 117.25,186.20 117.83,186.20 118.42,186.20 119.01,186.20 119.59,186.20 120.18,186.20 120.77,186.20 121.35,186.20 121.94,186.20 122.52,186.20 123.11,186.20 123.70,186.20 124.28,186.20 124.87,186.20 125.46,186.20 126.04,186.20 126.63,186.20 127.21,186.20 127.80,186.20 128.39,186.20 128.97,186.20 129.56,186.20 130.15,186.20 130.73,186.20 131.32,186.20 131.90,186.20 132.49,186.20 133.08,186.20 133.66,186.20 134.25,186.20" fill="none" stroke="#2d4f8c" stroke-width="1.1"/>
<circle cx="40.45" cy="186.20" r="1.25" fill="#2d4f8c"/>
<circle cx="63.90" cy="186.20" r="1.25" fill="#2d4f8c"/>
<circle cx="80.29" cy="186.20" r="1.25" fill="#2d4f8c"/>
<circle cx="87.35" cy="186.20" r="1.25" fill="#2d4f8c"/>
<circle cx="110.80" cy="186.20" r="1.25" fill="#2d4f8c"/>
<circle cx="134.25" cy="186.20" r="1.25" fill="#2d4f8c"/>
<polyline points="40.45,186.20 41.04,186.20 41.62,186.20 42.21,186.20 42.80,186.20 43.38,186.20 43.97,186.20 44.55,186.20 45.14,186.20 45.73,186.20 46.31,186.20 46.90,186.20 47.48,186.20 48.07,186.20 48.66,186.20 49.24,186.20 49.83,186.20 50.42,186.20 51.00,186.20 51.59,186.20 52.17,186.20 52.76,186.20 53.35,186.20 53.93,186.20 54.52,186.20 55.11,186.20 55.69,186.20 56.28,186.20 56.86,186.20 57.45,186.20 58.04,186.20 58.62,186.20 59.21,186.20 59.80,186.20 60.38,186.20 60.97,186.20 61.55,186.20 62.14,186.20 62.73,186.20 63.31,186.20 63.90,186.20 64.49,186.20 65.07,186.20 65.66,186.20 66.25,186.20 66.83,186.20 67.42,186.20 68.00,186.20 68.59,186.20 69.18,186.20 69.76,186.20 70.35,186.20 70.94,186.20 71.52,186.20 72.11,186.20 72.69,186.20 73.28,186.20 73.87,186.21 74.45,186.21 75.04,186.21 75.62,186.21 76.21,186.21 76.80,186.21 77.38,186.21 77.97,186.21 78.56,186.21 79.14,186.21 79.73,186.21 80.31,186.21 80.90,186.21 81.49,186.21 82.07,186.21 82.66,186.21 83.25,186.22 83.83,186.22 84.42,186.22 85.00,186.22 85.59,186.22 86.18,186.22 86.76,186.22 87.35,186.23 87.94,186.23 88.52,186.23 89.11,186.23 89.69,186.23 90.28,186.24 90.87,186.24 91.45,186.24 92.04,186.24 92.63,186.25 93.21,186.25 93.80,186.25 94.38,186.26 94.97,186.26 95.56,186.27 96.14,186.27 96.73,186.28 97.32,186.28 97.90,186.29 98.49,186.30 99.07,186.30 99.66,186.31 100.25,186.32 100.83,186.33 101.42,186.34 102.01,186.35 102.59,186.36 103.18,186.37 103.76,186.38 104.35,186.39 104.94,186.41 105.52,186.42 106.11,186.44 106.70,186.45 107.28,186.47 107.87,186.49 108.45,186.51 109.04,186.53 109.63,186.56 110.21,186.58 110.80,186.61 111.39,186.64 111.97,186.67 112.56,186.71 113.14,186.74 113.73,186.78 114.32,186.82 114.90,186.86 115.49,186.91 116.08,186.96 116.66,187.01 117.25,187.07 117.83,187.13 118.42,187.20 119.01,187.26 119.59,187.34 120.18,187.42 120.77,187.50 121.35,187.59 121.94,187.68 122.52,187.78 123.11,187.89 123.70,188.00 124.28,188.12 124.87,188.24 125.46,188.38 126.04,188.52 126.63,188.66 127.21,188.82 127.80,188.99 128.39,189.16 128.97,189.34 129.56,189.54 130.15,189.74 130.73,189.95 131.32,190.17 131.90,190.40 132.49,190.64 133.08,190.89 133.66,191.15 134.25,191.42" fill="none" stroke="#2d4f8c" stroke-width="1.1"/>
<circle cx="110.80" cy="186.20" r="1.25" fill="#2d4f8c"/>
<circle cx="127.19" cy="188.81" r="1.25" fill="#2d4f8c"/>
<circle cx="134.25" cy="191.42" r="1.25" fill="#2d4f8c"/>
<polyline points="40.45,186.20 41.04,186.20 41.62,186.20 42.21,186.20 42.80,186.20 43.38,186.20 43.97,186.20 44.55,186.20 45.14,186.20 45.73,186.20 46.31,186.20 46.90,186.20 47.48,186.20 48.07,186.20 48.66,186.20 49.24,186.20 49.83,186.20 50.42,186.20 51.00,186.20 51.59,186.20 52.17,186.20 52.76,186.20 53.35,186.20 53.93,186.20 54.52,186.20 55.11,186.20 55.69,186.20 56.28,186.20 56.86,186.20 57.45,186.20 58.04,186.20 58.62,186.20 59.21,186.21 59.80,186.21 60.38,186.21 60.97,186.21 61.55,186.21 62.14,186.21 62.73,186.21 63.31,186.21 63.90,186.21 64.49,186.21 65.07,186.21 65.66,186.21 66.25,186.21 66.83,186.21 67.42,186.22 68.00,186.22 68.59,186.22 69.18,186.22 69.76,186.22 70.35,186.22 70.94,186.22 71.52,186.23 72.11,186.23 72.69,186.23 73.28,186.23 73.87,186.24 74.45,186.24 75.04,186.24 75.62,186.25 76.21,186.25 76.80,186.25 77.38,186.26 77.97,186.26 78.56,186.27 79.14,186.27 79.73,186.28 80.31,186.29 80.90,186.29 81.49,186.30 82.07,186.31 82.66,186.32 83.25,186.33 83.83,186.34 84.42,186.35 85.00,186.36 85.59,186.37 86.18,186.39 86.76,186.40 87.35,186.42 87.94,186.43 88.52,186.45 89.11,186.47 89.69,186.50 90.28,186.52 90.87,186.54 91.45,186.57 92.04,186.60 92.63,186.63 93.21,186.67 93.80,186.70 94.38,186.74 94.97,186.79 95.56,186.83 96.14,186.88 96.73,186.94 97.32,187.00 97.90,187.06 98.49,187.13 99.07,187.20 99.66,187.28 100.25,187.36 100.83,187.45 101.42,187.54 102.01,187.65 102.59,187.76 103.18,187.87 103.76,188.00 104.35,188.14 104.94,188.28 105.52,188.44 106.11,188.60 106.70,188.78 107.28,188.96 107.87,189.16 108.45,189.37 109.04,189.60 109.63,189.84 110.21,190.09 110.80,190.36 111.39,190.64 111.97,190.93 112.56,191.25 113.14,191.57 113.73,191.92 114.32,192.28 114.90,192.65 115.49,193.04 116.08,193.45 116.66,193.87 117.25,194.31 117.83,194.76 118.42,195.22 119.01,195.70 119.59,196.19 120.18,196.69 120.77,197.19 121.35,197.71 121.94,198.23 122.52,198.76 123.11,199.29 123.70,199.82 124.28,200.35 124.87,200.88 125.46,201.41 126.04,201.93 126.63,202.45 127.21,202.96 127.80,203.46 128.39,203.95 128.97,204.43 129.56,204.90 130.15,205.36 130.73,205.80 131.32,206.22 131.90,206.64 132.49,207.03 133.08,207.41 133.66,207.78 134.25,208.13" fill="none" stroke="#2d4f8c" stroke-width="1.1"/>
<circle cx="87.35" cy="186.20" r="1.25" fill="#2d4f8c"/>
<circle cx="110.80" cy="190.38" r="1.25" fill="#2d4f8c"/>
<circle cx="127.19" cy="202.90" r="1.25" fill="#2d4f8c"/>
<circle cx="134.25" cy="208.12" r="1.25" fill="#2d4f8c"/>
<polyline points="40.45,186.21 41.04,186.21 41.62,186.21 42.21,186.22 42.80,186.22 43.38,186.22 43.97,186.23 44.55,186.23 45.14,186.23 45.73,186.24 46.31,186.24 46.90,186.25 47.48,186.26 48.07,186.27 48.66,186.28 49.24,186.29 49.83,186.30 50.42,186.31 51.00,186.33 51.59,186.35 52.17,186.37 52.76,186.40 53.35,186.43 53.93,186.46 54.52,186.50 55.11,186.54 55.69,186.59 56.28,186.65 56.86,186.72 57.45,186.79 58.04,186.88 58.62,186.98 59.21,187.09 59.80,187.22 60.38,187.37 60.97,187.54 61.55,187.73 62.14,187.95 62.73,188.20 63.31,188.49 63.90,188.81 64.49,189.18 65.07,189.59 65.66,190.05 66.25,190.58 66.83,191.16 67.42,191.82 68.00,192.55 68.59,193.36 69.18,194.26 69.76,195.25 70.35,196.33 70.94,197.50 71.52,198.77 72.11,200.14 72.69,201.59 73.28,203.13 73.87,204.75 74.45,206.43 75.04,208.17 75.62,209.94 76.21,211.74 76.80,213.54 77.38,215.33 77.97,217.09 78.56,218.81 79.14,220.47 79.73,222.06 80.31,223.57 80.90,224.99 81.49,226.32 82.07,227.56 82.66,228.70 83.25,229.74 83.83,230.69 84.42,231.56 85.00,232.34 85.59,233.04 86.18,233.67 86.76,234.23 87.35,234.73 87.94,235.17 88.52,235.57 89.11,235.92 89.69,236.22 90.28,236.49 90.87,236.73 91.45,236.94 92.04,237.12 92.63,237.29 93.21,237.43 93.80,237.55 94.38,237.66 94.97,237.75 95.56,237.84 96.14,237.91 96.73,237.97 97.32,238.03 97.90,238.07 98.49,238.12 99.07,238.15 99.66,238.18 100.25,238.21 100.83,238.24 101.42,238.26 102.01,238.28 102.59,238.29 103.18,238.31 103.76,238.32 104.35,238.33 104.94,238.34 105.52,238.35 106.11,238.35 106.70,238.36 107.28,238.36 107.87,238.37 108.45,238.37 109.04,238.38 109.63,238.38 110.21,238.38 110.80,238.38 111.39,238.39 111.97,238.39 112.56,238.39 113.14,238.39 113.73,238.39 114.32,238.39 114.90,238.39 115.49,238.39 116.08,238.40 116.66,238.40 117.25,238.40 117.83,238.40 118.42,238.40 119.01,238.40 119.59,238.40 120.18,238.40 120.77,238.40 121.35,238.40 121.94,238.40 122.52,238.40 123.11,238.40 123.70,238.40 124.28,238.40 124.87,238.40 125.46,238.40 126.04,238.40 126.63,238.40 127.21,238.40 127.80,238.40 128.39,238.40 128.97,238.40 129.56,238.40 130.15,238.40 130.73,238.40 131.32,238.40 131.90,238.40 132.49,238.40 133.08,238.40 133.66,238.40 134.25,238.40" fill="none" stroke="#6cb644" stroke-width="1.1"/>
<circle cx="40.45" cy="186.20" r="1.25" fill="#6cb644"/>
<circle cx="63.90" cy="188.81" r="1.25" fill="#6cb644"/>
<circle cx="87.35" cy="234.75" r="1.25" fill="#6cb644"/>
<circle cx="110.80" cy="238.40" r="1.25" fill="#6cb644"/>
<circle cx="134.25" cy="238.40" r="1.25" fill="#6cb644"/>
<polyline points="40.45,186.20 41.04,186.20 41.62,186.20 42.21,186.20 42.80,186.20 43.38,186.20 43.97,186.20 44.55,186.20 45.14,186.20 45.73,186.20 46.31,186.20 46.90,186.20 47.48,186.20 48.07,186.20 48.66,186.20 49.24,186.20 49.83,186.20 50.42,186.20 51.00,186.20 51.59,186.20 52.17,186.20 52.76,186.20 53.35,186.20 53.93,186.20 54.52,186.20 55.11,186.20 55.69,186.20 56.28,186.20 56.86,186.20 57.45,186.21 58.04,186.21 58.62,186.21 59.21,186.21 59.80,186.21 60.38,186.21 60.97,186.21 61.55,186.21 62.14,186.21 62.73,186.21 63.31,186.22 63.90,186.22 64.49,186.22 65.07,186.22 65.66,186.22 66.25,186.23 66.83,186.23 67.42,186.23 68.00,186.24 68.59,186.24 69.18,186.25 69.76,186.25 70.35,186.26 70.94,186.27 71.52,186.27 72.11,186.28 72.69,186.29 73.28,186.30 73.87,186.31 74.45,186.33 75.04,186.34 75.62,186.36 76.21,186.38 76.80,186.40 77.38,186.42 77.97,186.44 78.56,186.47 79.14,186.50 79.73,186.54 80.31,186.58 80.90,186.62 81.49,186.67 82.07,186.72 82.66,186.78 83.25,186.85 83.83,186.92 84.42,187.01 85.00,187.10 85.59,187.20 86.18,187.32 86.76,187.44 87.35,187.58 87.94,187.74 88.52,187.91 89.11,188.10 89.69,188.32 90.28,188.55 90.87,188.81 91.45,189.10 92.04,189.41 92.63,189.76 93.21,190.14 93.80,190.56 94.38,191.02 94.97,191.53 95.56,192.07 96.14,192.67 96.73,193.32 97.32,194.03 97.90,194.79 98.49,195.60 99.07,196.48 99.66,197.42 100.25,198.42 100.83,199.48 101.42,200.60 102.01,201.77 102.59,203.00 103.18,204.27 103.76,205.59 104.35,206.95 104.94,208.34 105.52,209.75 106.11,211.18 106.70,212.61 107.28,214.05 107.87,215.47 108.45,216.87 109.04,218.25 109.63,219.59 110.21,220.89 110.80,222.15 111.39,223.35 111.97,224.50 112.56,225.59 113.14,226.62 113.73,227.60 114.32,228.51 114.90,229.36 115.49,230.15 116.08,230.89 116.66,231.57 117.25,232.19 117.83,232.77 118.42,233.30 119.01,233.78 119.59,234.23 120.18,234.63 120.77,235.00 121.35,235.33 121.94,235.63 122.52,235.91 123.11,236.16 123.70,236.38 124.28,236.58 124.87,236.77 125.46,236.93 126.04,237.08 126.63,237.21 127.21,237.34 127.80,237.44 128.39,237.54 128.97,237.63 129.56,237.71 130.15,237.78 130.73,237.84 131.32,237.90 131.90,237.95 132.49,238.00 133.08,238.04 133.66,238.08 134.25,238.11" fill="none" stroke="#b3173c" stroke-width="1.1"/>
<circle cx="40.45" cy="186.20" r="1.25" fill="#b3173c"/>
<circle cx="63.90" cy="186.20" r="1.25" fill="#b3173c"/>
<circle cx="87.35" cy="187.77" r="1.25" fill="#b3173c"/>
<circle cx="110.80" cy="223.78" r="1.25" fill="#b3173c"/>
<circle cx="134.25" cy="238.40" r="1.25" fill="#b3173c"/>
<polyline points="40.45,186.20 41.04,186.20 41.62,186.20 42.21,186.20 42.80,186.20 43.38,186.20 43.97,186.20 44.55,186.20 45.14,186.20 45.73,186.20 46.31,186.20 46.90,186.20 47.48,186.20 48.07,186.20 48.66,186.20 49.24,186.20 49.83,186.20 50.42,186.20 51.00,186.20 51.59,186.20 52.17,186.21 52.76,186.21 53.35,186.21 53.93,186.21 54.52,186.21 55.11,186.21 55.69,186.21 56.28,186.21 56.86,186.22 57.45,186.22 58.04,186.22 58.62,186.22 59.21,186.23 59.80,186.23 60.38,186.23 60.97,186.24 61.55,186.24 62.14,186.25 62.73,186.25 63.31,186.26 63.90,186.27 64.49,186.28 65.07,186.29 65.66,186.30 66.25,186.31 66.83,186.33 67.42,186.34 68.00,186.36 68.59,186.39 69.18,186.41 69.76,186.44 70.35,186.47 70.94,186.50 71.52,186.54 72.11,186.59 72.69,186.64 73.28,186.70 73.87,186.77 74.45,186.84 75.04,186.92 75.62,187.02 76.21,187.13 76.80,187.25 77.38,187.38 77.97,187.54 78.56,187.71 79.14,187.90 79.73,188.12 80.31,188.37 80.90,188.64 81.49,188.95 82.07,189.29 82.66,189.68 83.25,190.10 83.83,190.58 84.42,191.11 85.00,191.69 85.59,192.34 86.18,193.05 86.76,193.83 87.35,194.68 87.94,195.60 88.52,196.60 89.11,197.68 89.69,198.84 90.28,200.07 90.87,201.38 91.45,202.76 92.04,204.20 92.63,205.71 93.21,207.25 93.80,208.84 94.38,210.45 94.97,212.08 95.56,213.71 96.14,215.33 96.73,216.92 97.32,218.48 97.90,219.99 98.49,221.45 99.07,222.85 99.66,224.18 100.25,225.44 100.83,226.61 101.42,227.71 102.01,228.74 102.59,229.68 103.18,230.55 103.76,231.35 104.35,232.08 104.94,232.74 105.52,233.34 106.11,233.88 106.70,234.37 107.28,234.81 107.87,235.21 108.45,235.56 109.04,235.88 109.63,236.16 110.21,236.42 110.80,236.64 111.39,236.84 111.97,237.02 112.56,237.18 113.14,237.32 113.73,237.44 114.32,237.55 114.90,237.65 115.49,237.74 116.08,237.82 116.66,237.88 117.25,237.94 117.83,238.00 118.42,238.04 119.01,238.09 119.59,238.12 120.18,238.15 120.77,238.18 121.35,238.21 121.94,238.23 122.52,238.25 123.11,238.27 123.70,238.28 124.28,238.30 124.87,238.31 125.46,238.32 126.04,238.33 126.63,238.34 127.21,238.34 127.80,238.35 128.39,238.36 128.97,238.36 129.56,238.37 130.15,238.37 130.73,238.37 131.32,238.38 131.90,238.38 132.49,238.38 133.08,238.38 133.66,238.39 134.25,238.39" fill="none" stroke="#4a2477" stroke-width="1.1"/>
<circle cx="40.45" cy="186.20" r="1.25" fill="#4a2477"/>
<circle cx="63.90" cy="186.20" r="1.25" fill="#4a2477"/>
<circle cx="87.35" cy="195.60" r="1.25" fill="#4a2477"/>
<circle cx="110.80" cy="236.83" r="1.25" fill="#4a2477"/>
<circle cx="134.25" cy="238.40" r="1.25" fill="#4a2477"/>
<line x1="96.90" y1="273.50" x2="103.50" y2="273.50" stroke="#4a2477" stroke-width="1.2"/>
<circle cx="100.20" cy="273.50" r="1.35" fill="#4a2477"/>
<text x="106.50" y="275.60" font-size="6.5" fill="#231f20" stroke="#231f20" stroke-width="0.14"><tspan textLength="52.30" lengthAdjust="spacingAndGlyphs">Lenalidomide (Crbn</tspan><tspan font-size="3.0" dy="-3.2" stroke-width="0.08">D391V/D391V</tspan><tspan dy="3.2">)</tspan></text>
<line x1="96.90" y1="284.30" x2="103.50" y2="284.30" stroke="#6cb644" stroke-width="1.2"/>
<circle cx="100.20" cy="284.30" r="1.35" fill="#6cb644"/>
<text x="106.50" y="286.40" font-size="6.5" fill="#231f20" stroke="#231f20" stroke-width="0.14"><tspan textLength="53.50" lengthAdjust="spacingAndGlyphs">Pomalidomide (Crbn</tspan><tspan font-size="3.0" dy="-3.2" stroke-width="0.08">D391V/D391V</tspan><tspan dy="3.2">)</tspan></text>
<line x1="96.90" y1="295.10" x2="103.50" y2="295.10" stroke="#b3173c" stroke-width="1.2"/>
<circle cx="100.20" cy="295.10" r="1.35" fill="#b3173c"/>
<text x="106.50" y="297.20" font-size="6.5" fill="#231f20" stroke="#231f20" stroke-width="0.14"><tspan textLength="48.50" lengthAdjust="spacingAndGlyphs">Thalidomide (Crbn</tspan><tspan font-size="3.0" dy="-3.2" stroke-width="0.08">D391V/D391V</tspan><tspan dy="3.2">)</tspan></text>
<line x1="212.00" y1="175.00" x2="212.00" y2="239.00" stroke="#231f20" stroke-width="1.3"/>
<line x1="209.00" y1="186.20" x2="212.00" y2="186.20" stroke="#231f20" stroke-width="0.8"/>
<text x="206.20" y="188.10" font-size="6.05" text-anchor="end" stroke="#231f20" stroke-width="0.18">100</text>
<line x1="209.00" y1="212.25" x2="212.00" y2="212.25" stroke="#231f20" stroke-width="0.8"/>
<text x="206.20" y="214.15" font-size="6.05" text-anchor="end" stroke="#231f20" stroke-width="0.18">50</text>
<line x1="209.00" y1="238.40" x2="212.00" y2="238.40" stroke="#231f20" stroke-width="0.8"/>
<text x="206.20" y="240.30" font-size="6.05" text-anchor="end" stroke="#231f20" stroke-width="0.18">0</text>
<line x1="211.40" y1="238.40" x2="307.80" y2="238.40" stroke="#231f20" stroke-width="1.25"/>
<line x1="212.00" y1="238.40" x2="212.00" y2="241.00" stroke="#231f20" stroke-width="0.8"/>
<text x="212.00" y="249.40" font-size="6.05" text-anchor="middle" stroke="#231f20" stroke-width="0.18">0.1</text>
<line x1="230.90" y1="238.40" x2="230.90" y2="241.00" stroke="#231f20" stroke-width="0.8"/>
<text x="230.90" y="249.40" font-size="6.05" text-anchor="middle" stroke="#231f20" stroke-width="0.18">1</text>
<line x1="249.80" y1="238.40" x2="249.80" y2="241.00" stroke="#231f20" stroke-width="0.8"/>
<text x="249.80" y="249.40" font-size="6.05" text-anchor="middle" stroke="#231f20" stroke-width="0.18">10</text>
<line x1="268.60" y1="238.40" x2="268.60" y2="241.00" stroke="#231f20" stroke-width="0.8"/>
<text x="268.60" y="249.40" font-size="6.05" text-anchor="middle" stroke="#231f20" stroke-width="0.18">100</text>
<line x1="287.50" y1="238.40" x2="287.50" y2="241.00" stroke="#231f20" stroke-width="0.8"/>
<text x="287.50" y="249.40" font-size="6.05" text-anchor="middle" stroke="#231f20" stroke-width="0.18">1000</text>
<line x1="306.30" y1="238.40" x2="306.30" y2="241.00" stroke="#231f20" stroke-width="0.8"/>
<text x="306.30" y="249.40" font-size="6.05" text-anchor="middle" stroke="#231f20" stroke-width="0.18">10000</text>
<text x="173.00" y="159.60" font-size="11.42" textLength="5.20" lengthAdjust="spacingAndGlyphs" stroke="#231f20" stroke-width="0.3">E</text>
<text x="229.60" y="172.00" font-size="6.72" textLength="59.90" lengthAdjust="spacingAndGlyphs" stroke="#231f20" stroke-width="0.18">ZFP91 degron reporter</text>
<text x="232.00" y="261.80" font-size="9.18" textLength="54.80" lengthAdjust="spacingAndGlyphs" stroke="#231f20" stroke-width="0.18">Drug dose (nM)</text>
<text x="189.60" y="206.0" font-size="8.6" text-anchor="middle" textLength="87" lengthAdjust="spacingAndGlyphs" transform="rotate(-90 189.60 206.0)" fill="#231f20" stroke="#231f20" stroke-width="0.15">% GFP<tspan font-size="5" dy="-3">+</tspan><tspan dy="3"> relative to DMSO</tspan></text>
<polyline points="212.00,186.23 212.59,186.23 213.18,186.24 213.77,186.24 214.36,186.25 214.95,186.25 215.54,186.26 216.13,186.27 216.72,186.27 217.32,186.28 217.91,186.29 218.50,186.30 219.09,186.31 219.68,186.32 220.27,186.34 220.86,186.35 221.45,186.37 222.04,186.39 222.63,186.41 223.22,186.44 223.81,186.46 224.40,186.49 224.99,186.52 225.58,186.56 226.18,186.60 226.77,186.65 227.36,186.70 227.95,186.75 228.54,186.81 229.13,186.88 229.72,186.96 230.31,187.04 230.90,187.13 231.49,187.24 232.08,187.35 232.67,187.48 233.26,187.62 233.85,187.78 234.44,187.95 235.03,188.14 235.62,188.35 236.22,188.58 236.81,188.84 237.40,189.12 237.99,189.43 238.58,189.77 239.17,190.15 239.76,190.55 240.35,191.00 240.94,191.49 241.53,192.02 242.12,192.60 242.71,193.23 243.30,193.91 243.89,194.64 244.48,195.42 245.08,196.27 245.67,197.17 246.26,198.12 246.85,199.14 247.44,200.21 248.03,201.33 248.62,202.51 249.21,203.74 249.80,205.01 250.39,206.32 250.98,207.66 251.57,209.02 252.16,210.41 252.75,211.80 253.34,213.20 253.93,214.60 254.53,215.98 255.12,217.34 255.71,218.67 256.30,219.97 256.89,221.22 257.48,222.44 258.07,223.60 258.66,224.71 259.25,225.76 259.84,226.76 260.43,227.70 261.02,228.59 261.61,229.41 262.20,230.18 262.79,230.90 263.38,231.56 263.98,232.17 264.57,232.74 265.16,233.26 265.75,233.73 266.34,234.17 266.93,234.57 267.52,234.93 268.11,235.26 268.70,235.56 269.29,235.84 269.88,236.09 270.47,236.31 271.06,236.52 271.65,236.70 272.24,236.87 272.83,237.02 273.43,237.16 274.02,237.28 274.61,237.39 275.20,237.49 275.79,237.58 276.38,237.67 276.97,237.74 277.56,237.81 278.15,237.87 278.74,237.92 279.33,237.97 279.92,238.01 280.51,238.05 281.10,238.09 281.69,238.12 282.28,238.15 282.88,238.17 283.47,238.20 284.06,238.22 284.65,238.23 285.24,238.25 285.83,238.27 286.42,238.28 287.01,238.29 287.60,238.30 288.19,238.31 288.78,238.32 289.37,238.33 289.96,238.34 290.55,238.34 291.14,238.35 291.73,238.35 292.33,238.36 292.92,238.36 293.51,238.37 294.10,238.37 294.69,238.37 295.28,238.38 295.87,238.38 296.46,238.38 297.05,238.38 297.64,238.38 298.23,238.39 298.82,238.39 299.41,238.39 300.00,238.39 300.59,238.39 301.18,238.39 301.78,238.39 302.37,238.39 302.96,238.39 303.55,238.39 304.14,238.40 304.73,238.40 305.32,238.40 305.91,238.40 306.50,238.40" fill="none" stroke="#6cb644" stroke-width="1.1"/>
<circle cx="230.90" cy="187.24" r="1.25" fill="#6cb644"/>
<circle cx="244.11" cy="195.60" r="1.25" fill="#6cb644"/>
<circle cx="249.80" cy="204.47" r="1.25" fill="#6cb644"/>
<circle cx="263.01" cy="231.61" r="1.25" fill="#6cb644"/>
<circle cx="268.70" cy="235.79" r="1.25" fill="#6cb644"/>
<circle cx="281.91" cy="238.40" r="1.25" fill="#6cb644"/>
<circle cx="287.60" cy="238.40" r="1.25" fill="#6cb644"/>
<circle cx="300.81" cy="238.40" r="1.25" fill="#6cb644"/>
<circle cx="306.50" cy="238.40" r="1.25" fill="#6cb644"/>
<polyline points="212.00,186.20 212.59,186.20 213.18,186.20 213.77,186.20 214.36,186.20 214.95,186.20 215.54,186.20 216.13,186.20 216.72,186.20 217.32,186.20 217.91,186.20 218.50,186.20 219.09,186.20 219.68,186.20 220.27,186.20 220.86,186.20 221.45,186.20 222.04,186.20 222.63,186.20 223.22,186.20 223.81,186.20 224.40,186.20 224.99,186.20 225.58,186.20 226.18,186.20 226.77,186.20 227.36,186.20 227.95,186.20 228.54,186.20 229.13,186.21 229.72,186.21 230.31,186.21 230.90,186.21 231.49,186.21 232.08,186.21 232.67,186.21 233.26,186.21 233.85,186.21 234.44,186.21 235.03,186.21 235.62,186.21 236.22,186.22 236.81,186.22 237.40,186.22 237.99,186.22 238.58,186.22 239.17,186.23 239.76,186.23 240.35,186.23 240.94,186.23 241.53,186.24 242.12,186.24 242.71,186.24 243.30,186.25 243.89,186.25 244.48,186.26 245.08,186.26 245.67,186.27 246.26,186.28 246.85,186.28 247.44,186.29 248.03,186.30 248.62,186.31 249.21,186.32 249.80,186.33 250.39,186.34 250.98,186.36 251.57,186.37 252.16,186.39 252.75,186.40 253.34,186.42 253.93,186.45 254.53,186.47 255.12,186.49 255.71,186.52 256.30,186.55 256.89,186.59 257.48,186.62 258.07,186.66 258.66,186.70 259.25,186.75 259.84,186.80 260.43,186.86 261.02,186.92 261.61,186.99 262.20,187.06 262.79,187.14 263.38,187.23 263.98,187.33 264.57,187.43 265.16,187.54 265.75,187.67 266.34,187.80 266.93,187.95 267.52,188.11 268.11,188.28 268.70,188.47 269.29,188.67 269.88,188.89 270.47,189.13 271.06,189.39 271.65,189.67 272.24,189.97 272.83,190.30 273.43,190.65 274.02,191.02 274.61,191.43 275.20,191.86 275.79,192.33 276.38,192.82 276.97,193.35 277.56,193.91 278.15,194.51 278.74,195.14 279.33,195.80 279.92,196.51 280.51,197.24 281.10,198.01 281.69,198.82 282.28,199.65 282.88,200.52 283.47,201.41 284.06,202.33 284.65,203.27 285.24,204.24 285.83,205.22 286.42,206.21 287.01,207.21 287.60,208.22 288.19,209.22 288.78,210.23 289.37,211.22 289.96,212.21 290.55,213.18 291.14,214.13 291.73,215.06 292.33,215.96 292.92,216.84 293.51,217.68 294.10,218.50 294.69,219.28 295.28,220.02 295.87,220.74 296.46,221.41 297.05,222.06 297.64,222.66 298.23,223.24 298.82,223.78 299.41,224.28 300.00,224.76 300.59,225.20 301.18,225.61 301.78,226.00 302.37,226.36 302.96,226.69 303.55,227.00 304.14,227.29 304.73,227.55 305.32,227.80 305.91,228.03 306.50,228.24" fill="none" stroke="#b3173c" stroke-width="1.1"/>
<circle cx="230.90" cy="186.20" r="1.25" fill="#b3173c"/>
<circle cx="244.11" cy="186.20" r="1.25" fill="#b3173c"/>
<circle cx="249.80" cy="186.20" r="1.25" fill="#b3173c"/>
<circle cx="263.01" cy="187.24" r="1.25" fill="#b3173c"/>
<circle cx="268.70" cy="188.29" r="1.25" fill="#b3173c"/>
<circle cx="281.91" cy="199.25" r="1.25" fill="#b3173c"/>
<circle cx="287.60" cy="208.12" r="1.25" fill="#b3173c"/>
<circle cx="300.81" cy="225.35" r="1.25" fill="#b3173c"/>
<circle cx="306.50" cy="228.22" r="1.25" fill="#b3173c"/>
<polyline points="212.00,186.20 212.59,186.20 213.18,186.20 213.77,186.20 214.36,186.20 214.95,186.20 215.54,186.20 216.13,186.20 216.72,186.20 217.32,186.20 217.91,186.20 218.50,186.20 219.09,186.20 219.68,186.20 220.27,186.20 220.86,186.20 221.45,186.20 222.04,186.20 222.63,186.20 223.22,186.20 223.81,186.21 224.40,186.21 224.99,186.21 225.58,186.21 226.18,186.21 226.77,186.21 227.36,186.21 227.95,186.21 228.54,186.21 229.13,186.21 229.72,186.21 230.31,186.21 230.90,186.22 231.49,186.22 232.08,186.22 232.67,186.22 233.26,186.22 233.85,186.22 234.44,186.23 235.03,186.23 235.62,186.23 236.22,186.23 236.81,186.24 237.40,186.24 237.99,186.24 238.58,186.25 239.17,186.25 239.76,186.26 240.35,186.26 240.94,186.27 241.53,186.27 242.12,186.28 242.71,186.29 243.30,186.29 243.89,186.30 244.48,186.31 245.08,186.32 245.67,186.33 246.26,186.34 246.85,186.36 247.44,186.37 248.03,186.39 248.62,186.40 249.21,186.42 249.80,186.44 250.39,186.47 250.98,186.49 251.57,186.52 252.16,186.54 252.75,186.57 253.34,186.61 253.93,186.64 254.53,186.68 255.12,186.73 255.71,186.78 256.30,186.83 256.89,186.88 257.48,186.94 258.07,187.01 258.66,187.08 259.25,187.16 259.84,187.24 260.43,187.34 261.02,187.44 261.61,187.55 262.20,187.66 262.79,187.79 263.38,187.93 263.98,188.08 264.57,188.24 265.16,188.41 265.75,188.60 266.34,188.80 266.93,189.02 267.52,189.26 268.11,189.51 268.70,189.78 269.29,190.07 269.88,190.39 270.47,190.72 271.06,191.08 271.65,191.46 272.24,191.86 272.83,192.29 273.43,192.75 274.02,193.23 274.61,193.74 275.20,194.27 275.79,194.84 276.38,195.42 276.97,196.04 277.56,196.68 278.15,197.34 278.74,198.03 279.33,198.74 279.92,199.47 280.51,200.22 281.10,200.98 281.69,201.76 282.28,202.54 282.88,203.34 283.47,204.14 284.06,204.94 284.65,205.74 285.24,206.53 285.83,207.32 286.42,208.10 287.01,208.86 287.60,209.61 288.19,210.35 288.78,211.06 289.37,211.75 289.96,212.42 290.55,213.06 291.14,213.68 291.73,214.27 292.33,214.84 292.92,215.38 293.51,215.89 294.10,216.38 294.69,216.84 295.28,217.27 295.87,217.68 296.46,218.07 297.05,218.43 297.64,218.76 298.23,219.08 298.82,219.37 299.41,219.65 300.00,219.90 300.59,220.14 301.18,220.36 301.78,220.57 302.37,220.76 302.96,220.94 303.55,221.10 304.14,221.25 304.73,221.39 305.32,221.52 305.91,221.64 306.50,221.75" fill="none" stroke="#4a2477" stroke-width="1.1"/>
<circle cx="230.90" cy="186.20" r="1.25" fill="#4a2477"/>
<circle cx="244.11" cy="186.20" r="1.25" fill="#4a2477"/>
<circle cx="249.80" cy="186.20" r="1.25" fill="#4a2477"/>
<circle cx="263.01" cy="187.77" r="1.25" fill="#4a2477"/>
<circle cx="268.70" cy="189.33" r="1.25" fill="#4a2477"/>
<circle cx="281.91" cy="202.38" r="1.25" fill="#4a2477"/>
<circle cx="287.60" cy="209.69" r="1.25" fill="#4a2477"/>
<circle cx="300.81" cy="219.09" r="1.25" fill="#4a2477"/>
<circle cx="306.50" cy="222.74" r="1.25" fill="#4a2477"/>
<polyline points="212.00,186.20 212.59,186.20 213.18,186.20 213.77,186.20 214.36,186.20 214.95,186.20 215.54,186.20 216.13,186.20 216.72,186.20 217.32,186.20 217.91,186.20 218.50,186.20 219.09,186.20 219.68,186.20 220.27,186.20 220.86,186.20 221.45,186.20 222.04,186.20 222.63,186.20 223.22,186.20 223.81,186.20 224.40,186.20 224.99,186.20 225.58,186.20 226.18,186.20 226.77,186.20 227.36,186.20 227.95,186.20 228.54,186.20 229.13,186.20 229.72,186.20 230.31,186.20 230.90,186.20 231.49,186.20 232.08,186.20 232.67,186.20 233.26,186.20 233.85,186.20 234.44,186.20 235.03,186.20 235.62,186.20 236.22,186.20 236.81,186.20 237.40,186.20 237.99,186.20 238.58,186.20 239.17,186.20 239.76,186.20 240.35,186.20 240.94,186.20 241.53,186.20 242.12,186.20 242.71,186.20 243.30,186.20 243.89,186.20 244.48,186.20 245.08,186.20 245.67,186.20 246.26,186.20 246.85,186.20 247.44,186.20 248.03,186.20 248.62,186.20 249.21,186.20 249.80,186.20 250.39,186.20 250.98,186.20 251.57,186.20 252.16,186.20 252.75,186.20 253.34,186.20 253.93,186.20 254.53,186.20 255.12,186.20 255.71,186.20 256.30,186.20 256.89,186.20 257.48,186.20 258.07,186.20 258.66,186.20 259.25,186.20 259.84,186.20 260.43,186.20 261.02,186.20 261.61,186.20 262.20,186.20 262.79,186.20 263.38,186.20 263.98,186.20 264.57,186.20 265.16,186.20 265.75,186.20 266.34,186.20 266.93,186.20 267.52,186.20 268.11,186.20 268.70,186.20 269.29,186.20 269.88,186.20 270.47,186.20 271.06,186.20 271.65,186.20 272.24,186.20 272.83,186.20 273.43,186.20 274.02,186.20 274.61,186.20 275.20,186.20 275.79,186.20 276.38,186.20 276.97,186.20 277.56,186.20 278.15,186.20 278.74,186.20 279.33,186.20 279.92,186.20 280.51,186.20 281.10,186.20 281.69,186.20 282.28,186.20 282.88,186.20 283.47,186.20 284.06,186.20 284.65,186.20 285.24,186.20 285.83,186.20 286.42,186.20 287.01,186.20 287.60,186.20 288.19,186.20 288.78,186.20 289.37,186.20 289.96,186.20 290.55,186.20 291.14,186.20 291.73,186.20 292.33,186.20 292.92,186.20 293.51,186.20 294.10,186.20 294.69,186.20 295.28,186.20 295.87,186.20 296.46,186.20 297.05,186.20 297.64,186.20 298.23,186.20 298.82,186.20 299.41,186.20 300.00,186.20 300.59,186.20 301.18,186.20 301.78,186.20 302.37,186.20 302.96,186.20 303.55,186.20 304.14,186.20 304.73,186.20 305.32,186.20 305.91,186.20 306.50,186.20" fill="none" stroke="#2d4f8c" stroke-width="1.1"/>
<circle cx="212.00" cy="186.20" r="1.25" fill="#2d4f8c"/>
<circle cx="230.90" cy="186.20" r="1.25" fill="#2d4f8c"/>
<circle cx="244.11" cy="186.20" r="1.25" fill="#2d4f8c"/>
<circle cx="249.80" cy="186.20" r="1.25" fill="#2d4f8c"/>
<circle cx="263.01" cy="186.20" r="1.25" fill="#2d4f8c"/>
<circle cx="268.70" cy="186.20" r="1.25" fill="#2d4f8c"/>
<circle cx="287.60" cy="186.72" r="1.25" fill="#2d4f8c"/>
<circle cx="300.81" cy="187.24" r="1.25" fill="#2d4f8c"/>
<circle cx="306.50" cy="187.24" r="1.25" fill="#2d4f8c"/>
<line x1="194.80" y1="273.50" x2="201.40" y2="273.50" stroke="#2d4f8c" stroke-width="1.2"/>
<circle cx="198.10" cy="273.50" r="1.35" fill="#2d4f8c"/>
<text x="204.20" y="275.60" font-size="6.5" fill="#231f20" stroke="#231f20" stroke-width="0.14"><tspan textLength="51.50" lengthAdjust="spacingAndGlyphs">Lenalidomide (Crbn</tspan><tspan font-size="3.8" dy="-3.2" stroke-width="0.08">+/+</tspan><tspan dy="3.2">)</tspan></text>
<line x1="194.80" y1="284.30" x2="201.40" y2="284.30" stroke="#2d4f8c" stroke-width="1.2"/>
<circle cx="198.10" cy="284.30" r="1.35" fill="#2d4f8c"/>
<text x="204.20" y="286.40" font-size="6.5" fill="#231f20" stroke="#231f20" stroke-width="0.14"><tspan textLength="52.50" lengthAdjust="spacingAndGlyphs">Pomalidomide (Crbn</tspan><tspan font-size="3.8" dy="-3.2" stroke-width="0.08">+/+</tspan><tspan dy="3.2">)</tspan></text>
<line x1="194.80" y1="295.10" x2="201.40" y2="295.10" stroke="#2d4f8c" stroke-width="1.2"/>
<circle cx="198.10" cy="295.10" r="1.35" fill="#2d4f8c"/>
<text x="204.20" y="297.20" font-size="6.5" fill="#231f20" stroke="#231f20" stroke-width="0.14"><tspan textLength="47.80" lengthAdjust="spacingAndGlyphs">Thalidomide (Crbn</tspan><tspan font-size="3.8" dy="-3.2" stroke-width="0.08">+/+</tspan><tspan dy="3.2">)</tspan></text>
<text x="355.90" y="159.70" font-size="11.42" textLength="5.20" lengthAdjust="spacingAndGlyphs" stroke="#231f20" stroke-width="0.3">F</text>
<text x="355.60" y="178.30" font-size="6.72" textLength="16.30" lengthAdjust="spacingAndGlyphs" stroke="#231f20" stroke-width="0.18">T cells</text>
<text x="355.60" y="185.90" font-size="6.72" textLength="23.00" lengthAdjust="spacingAndGlyphs" stroke="#231f20" stroke-width="0.18">Len (µM)</text>
<text x="404.30" y="175.90" font-size="6.38" text-anchor="middle" textLength="8.60" lengthAdjust="spacingAndGlyphs" stroke="#231f20" stroke-width="0.18">WT</text>
<line x1="388.80" y1="179.20" x2="421.90" y2="179.20" stroke="#231f20" stroke-width="0.9"/>
<text x="436.00" y="176.00" font-size="6.94" textLength="13.10" lengthAdjust="spacingAndGlyphs" stroke="#231f20" stroke-width="0.18">Crbn</text>
<text x="449.30" y="172.60" font-size="3.81" textLength="13.00" lengthAdjust="spacingAndGlyphs" stroke="#231f20" stroke-width="0.06">D391V/+</text>
<line x1="434.10" y1="179.00" x2="467.40" y2="179.00" stroke="#231f20" stroke-width="0.9"/>
<text x="473.40" y="176.00" font-size="6.94" textLength="12.80" lengthAdjust="spacingAndGlyphs" stroke="#231f20" stroke-width="0.18">Crbn</text>
<text x="486.40" y="172.60" font-size="3.81" textLength="21.50" lengthAdjust="spacingAndGlyphs" stroke="#231f20" stroke-width="0.06">D391V/D391V</text>
<line x1="475.30" y1="179.00" x2="508.70" y2="179.00" stroke="#231f20" stroke-width="0.9"/>
<text x="390.90" y="186.30" font-size="6.27" text-anchor="middle" stroke="#231f20" stroke-width="0.18">0</text>
<text x="404.60" y="186.30" font-size="6.27" text-anchor="middle" stroke="#231f20" stroke-width="0.18">1</text>
<text x="418.80" y="186.30" font-size="6.27" text-anchor="middle" stroke="#231f20" stroke-width="0.18">10</text>
<text x="435.60" y="186.30" font-size="6.27" text-anchor="middle" stroke="#231f20" stroke-width="0.18">0</text>
<text x="448.80" y="186.30" font-size="6.27" text-anchor="middle" stroke="#231f20" stroke-width="0.18">1</text>
<text x="463.00" y="186.30" font-size="6.27" text-anchor="middle" stroke="#231f20" stroke-width="0.18">10</text>
<text x="477.10" y="186.30" font-size="6.27" text-anchor="middle" stroke="#231f20" stroke-width="0.18">0</text>
<text x="491.70" y="186.30" font-size="6.27" text-anchor="middle" stroke="#231f20" stroke-width="0.18">1</text>
<text x="505.40" y="186.30" font-size="6.27" text-anchor="middle" stroke="#231f20" stroke-width="0.18">10</text>
<text x="378.80" y="196.30" font-size="6.72" text-anchor="end" textLength="19.60" lengthAdjust="spacingAndGlyphs" stroke="#231f20" stroke-width="0.18">IB: Ikzf3</text>
<text x="378.80" y="213.20" font-size="6.72" text-anchor="end" textLength="21.70" lengthAdjust="spacingAndGlyphs" stroke="#231f20" stroke-width="0.18">IB: Actin</text>
<rect x="384.20" y="190.70" width="41.00" height="6.30" fill="#ededed" filter="url(#bl)"/>
<rect x="427.80" y="190.80" width="85.00" height="7.00" fill="#ededed" filter="url(#bl)"/>
<rect x="384.20" y="204.70" width="41.00" height="11.80" fill="#e6e6e6" filter="url(#bl)"/>
<rect x="427.80" y="204.20" width="85.00" height="12.90" fill="#e6e6e6" filter="url(#bl)"/>
<line x1="427.40" y1="190.00" x2="427.40" y2="217.60" stroke="#4a4a4a" stroke-width="0.8"/>
<rect x="385.50" y="193.10" width="12.50" height="2.00" rx="0.8" fill="#1c1c1c" fill-opacity="0.95" filter="url(#b2)"/>
<rect x="399.50" y="193.10" width="13.50" height="2.00" rx="0.8" fill="#1c1c1c" fill-opacity="0.95" filter="url(#b2)"/>
<rect x="414.80" y="193.10" width="10.00" height="2.00" rx="0.8" fill="#1c1c1c" fill-opacity="0.95" filter="url(#b2)"/>
<rect x="431.00" y="192.30" width="10.50" height="2.20" rx="0.8" fill="#1c1c1c" fill-opacity="0.95" filter="url(#b2)"/>
<rect x="444.00" y="192.80" width="13.00" height="1.60" rx="0.8" fill="#1c1c1c" fill-opacity="0.7" filter="url(#b2)"/>
<rect x="458.00" y="193.25" width="13.00" height="1.30" rx="0.8" fill="#1c1c1c" fill-opacity="0.35" filter="url(#b2)"/>
<rect x="473.00" y="192.90" width="13.00" height="2.20" rx="0.8" fill="#1c1c1c" fill-opacity="0.9" filter="url(#b2)"/>
<rect x="487.00" y="193.50" width="11.00" height="1.20" rx="0.8" fill="#1c1c1c" fill-opacity="0.18" filter="url(#b2)"/>
<rect x="431.00" y="195.80" width="10.50" height="0.80" rx="0.8" fill="#555" fill-opacity="0.5" filter="url(#b2)"/>
<rect x="385.00" y="208.65" width="12.50" height="3.10" rx="0.8" fill="#111" fill-opacity="1" filter="url(#b2)"/>
<rect x="399.00" y="208.75" width="14.00" height="3.10" rx="0.8" fill="#111" fill-opacity="1" filter="url(#b2)"/>
<rect x="413.50" y="208.55" width="10.70" height="3.10" rx="0.8" fill="#111" fill-opacity="1" filter="url(#b2)"/>
<path d="M432.00 211.55 L442.50 210.55 L442.50 213.65 L432.00 214.65 Z" fill="#111" fill-opacity="1" filter="url(#b2)"/>
<path d="M444.50 210.55 L457.50 210.15 L457.50 213.25 L444.50 213.65 Z" fill="#111" fill-opacity="1" filter="url(#b2)"/>
<path d="M458.00 210.40 L471.00 210.10 L471.00 213.20 L458.00 213.50 Z" fill="#111" fill-opacity="1" filter="url(#b2)"/>
<path d="M472.00 209.95 L485.50 209.55 L485.50 212.65 L472.00 213.05 Z" fill="#111" fill-opacity="1" filter="url(#b2)"/>
<path d="M487.00 209.70 L498.50 209.40 L498.50 212.50 L487.00 212.80 Z" fill="#111" fill-opacity="1" filter="url(#b2)"/>
<path d="M500.00 209.90 L512.00 209.60 L512.00 212.70 L500.00 213.00 Z" fill="#111" fill-opacity="1" filter="url(#b2)"/>
<text x="355.4" y="228.4" font-size="6.5" fill="#231f20" stroke="#231f20" stroke-width="0.14">c-Kit<tspan font-size="3.5" dy="-2.6">+</tspan></text>
<text x="355.60" y="235.30" font-size="6.72" textLength="23.00" lengthAdjust="spacingAndGlyphs" stroke="#231f20" stroke-width="0.18">Len (µM)</text>
<text x="403.80" y="227.70" font-size="6.38" text-anchor="middle" textLength="8.60" lengthAdjust="spacingAndGlyphs" stroke="#231f20" stroke-width="0.18">WT</text>
<line x1="386.50" y1="229.40" x2="420.30" y2="229.40" stroke="#231f20" stroke-width="0.9"/>
<text x="435.60" y="227.30" font-size="6.94" textLength="13.10" lengthAdjust="spacingAndGlyphs" stroke="#231f20" stroke-width="0.18">Crbn</text>
<text x="448.90" y="223.90" font-size="3.81" textLength="12.70" lengthAdjust="spacingAndGlyphs" stroke="#231f20" stroke-width="0.06">D391V/+</text>
<line x1="432.30" y1="229.20" x2="465.60" y2="229.20" stroke="#231f20" stroke-width="0.9"/>
<text x="473.40" y="227.30" font-size="6.94" textLength="12.80" lengthAdjust="spacingAndGlyphs" stroke="#231f20" stroke-width="0.18">Crbn</text>
<text x="486.40" y="223.90" font-size="3.81" textLength="21.00" lengthAdjust="spacingAndGlyphs" stroke="#231f20" stroke-width="0.06">D391V/D391V</text>
<line x1="472.90" y1="229.20" x2="506.70" y2="229.20" stroke="#231f20" stroke-width="0.9"/>
<text x="390.80" y="236.40" font-size="6.27" text-anchor="middle" stroke="#231f20" stroke-width="0.18">0</text>
<text x="404.70" y="236.40" font-size="6.27" text-anchor="middle" stroke="#231f20" stroke-width="0.18">1</text>
<text x="419.00" y="236.40" font-size="6.27" text-anchor="middle" stroke="#231f20" stroke-width="0.18">10</text>
<text x="433.20" y="236.40" font-size="6.27" text-anchor="middle" stroke="#231f20" stroke-width="0.18">0</text>
<text x="447.30" y="236.40" font-size="6.27" text-anchor="middle" stroke="#231f20" stroke-width="0.18">1</text>
<text x="461.20" y="236.40" font-size="6.27" text-anchor="middle" stroke="#231f20" stroke-width="0.18">10</text>
<text x="474.00" y="236.40" font-size="6.27" text-anchor="middle" stroke="#231f20" stroke-width="0.18">0</text>
<text x="488.00" y="236.40" font-size="6.27" text-anchor="middle" stroke="#231f20" stroke-width="0.18">1</text>
<text x="502.70" y="236.40" font-size="6.27" text-anchor="middle" stroke="#231f20" stroke-width="0.18">10</text>
<text x="378.70" y="248.00" font-size="6.72" text-anchor="end" textLength="21.90" lengthAdjust="spacingAndGlyphs" stroke="#231f20" stroke-width="0.18">IB: Ck1α</text>
<text x="378.70" y="262.40" font-size="6.72" text-anchor="end" textLength="21.90" lengthAdjust="spacingAndGlyphs" stroke="#231f20" stroke-width="0.18">IB: Actin</text>
<rect x="384.00" y="238.70" width="126.50" height="13.00" fill="#f6eef0" filter="url(#bl)"/>
<rect x="384.00" y="254.20" width="126.50" height="10.10" fill="#e7e7e7" filter="url(#bl)"/>
<rect x="385.40" y="240.50" width="11.80" height="3.00" rx="0.5" fill="#d8b8c0" fill-opacity="0.35" filter="url(#b2)"/>
<rect x="385.40" y="243.60" width="11.80" height="4.40" rx="1.0" fill="#4e1a22" fill-opacity="1" filter="url(#b2)"/>
<rect x="399.00" y="240.50" width="11.50" height="3.00" rx="0.5" fill="#d8b8c0" fill-opacity="0.35" filter="url(#b2)"/>
<rect x="399.00" y="242.90" width="11.50" height="5.60" rx="1.0" fill="#4e1a22" fill-opacity="1" filter="url(#b2)"/>
<rect x="412.50" y="240.50" width="11.50" height="3.00" rx="0.5" fill="#d8b8c0" fill-opacity="0.322" filter="url(#b2)"/>
<rect x="412.50" y="244.40" width="11.50" height="3.50" rx="1.0" fill="#4e1a22" fill-opacity="0.92" filter="url(#b2)"/>
<rect x="426.00" y="240.50" width="13.00" height="3.00" rx="0.5" fill="#d8b8c0" fill-opacity="0.35" filter="url(#b2)"/>
<rect x="426.00" y="243.60" width="13.00" height="4.60" rx="1.0" fill="#4e1a22" fill-opacity="1" filter="url(#b2)"/>
<rect x="442.00" y="240.50" width="12.50" height="3.00" rx="0.5" fill="#d8b8c0" fill-opacity="0.308" filter="url(#b2)"/>
<rect x="442.00" y="244.30" width="12.50" height="3.30" rx="1.0" fill="#4e1a22" fill-opacity="0.88" filter="url(#b2)"/>
<rect x="455.50" y="240.50" width="11.00" height="3.00" rx="0.5" fill="#d8b8c0" fill-opacity="0.2975" filter="url(#b2)"/>
<rect x="455.50" y="244.30" width="11.00" height="3.30" rx="1.0" fill="#4e1a22" fill-opacity="0.85" filter="url(#b2)"/>
<rect x="468.00" y="240.50" width="10.50" height="3.00" rx="0.5" fill="#d8b8c0" fill-opacity="0.35" filter="url(#b2)"/>
<rect x="468.00" y="243.30" width="10.50" height="5.00" rx="1.0" fill="#4e1a22" fill-opacity="1" filter="url(#b2)"/>
<rect x="482.00" y="240.50" width="10.50" height="3.00" rx="0.5" fill="#d8b8c0" fill-opacity="0.2975" filter="url(#b2)"/>
<rect x="482.00" y="244.20" width="10.50" height="3.40" rx="1.0" fill="#4e1a22" fill-opacity="0.85" filter="url(#b2)"/>
<rect x="497.00" y="240.50" width="10.00" height="3.00" rx="0.5" fill="#d8b8c0" fill-opacity="0.105" filter="url(#b2)"/>
<rect x="497.00" y="244.80" width="10.00" height="1.80" rx="1.0" fill="#4e1a22" fill-opacity="0.3" filter="url(#b2)"/>
<rect x="455.50" y="241.10" width="11.00" height="1.00" rx="0.8" fill="#b07080" fill-opacity="0.35" filter="url(#b2)"/>
<rect x="482.00" y="241.10" width="10.50" height="1.00" rx="0.8" fill="#b07080" fill-opacity="0.35" filter="url(#b2)"/>
<rect x="385.00" y="260.60" width="10.50" height="2.00" rx="0.8" fill="#1e1e1e" fill-opacity="0.92" filter="url(#b2)"/>
<rect x="398.00" y="260.60" width="11.50" height="2.00" rx="0.8" fill="#1e1e1e" fill-opacity="0.92" filter="url(#b2)"/>
<rect x="411.00" y="260.60" width="12.00" height="2.00" rx="0.8" fill="#1e1e1e" fill-opacity="0.92" filter="url(#b2)"/>
<rect x="426.00" y="260.60" width="13.00" height="2.00" rx="0.8" fill="#1e1e1e" fill-opacity="0.92" filter="url(#b2)"/>
<rect x="442.00" y="260.60" width="11.50" height="2.00" rx="0.8" fill="#1e1e1e" fill-opacity="0.92" filter="url(#b2)"/>
<rect x="455.50" y="260.60" width="11.50" height="2.00" rx="0.8" fill="#1e1e1e" fill-opacity="0.92" filter="url(#b2)"/>
<rect x="469.00" y="260.60" width="11.00" height="2.00" rx="0.8" fill="#1e1e1e" fill-opacity="0.92" filter="url(#b2)"/>
<rect x="482.50" y="260.60" width="11.50" height="2.00" rx="0.8" fill="#1e1e1e" fill-opacity="0.92" filter="url(#b2)"/>
<rect x="497.00" y="260.60" width="11.00" height="2.00" rx="0.8" fill="#1e1e1e" fill-opacity="0.92" filter="url(#b2)"/>
<text x="6.30" y="318.70" font-size="11.42" textLength="7.50" lengthAdjust="spacingAndGlyphs" stroke="#231f20" stroke-width="0.3">G</text>
<text x="34.50" y="325.40" font-size="6.72" textLength="16.30" lengthAdjust="spacingAndGlyphs" stroke="#231f20" stroke-width="0.18">T cells</text>
<text x="34.50" y="336.00" font-size="6.72" textLength="12.00" lengthAdjust="spacingAndGlyphs" stroke="#231f20" stroke-width="0.18">Crbn</text>
<text x="46.60" y="332.30" font-size="3.81" textLength="23.30" lengthAdjust="spacingAndGlyphs" stroke="#231f20" stroke-width="0.06">D391V/D391V</text>
<text x="70.00" y="347.60" font-size="6.72" text-anchor="end" textLength="33.50" lengthAdjust="spacingAndGlyphs" stroke="#231f20" stroke-width="0.18">Thal (mg/kg)</text>
<text x="70.00" y="359.10" font-size="6.72" text-anchor="end" textLength="32.30" lengthAdjust="spacingAndGlyphs" stroke="#231f20" stroke-width="0.18">Len (mg/kg)</text>
<text x="85.50" y="347.60" font-size="6.72" text-anchor="middle" stroke="#231f20" stroke-width="0.18">0</text>
<text x="99.30" y="347.60" font-size="6.72" text-anchor="middle" stroke="#231f20" stroke-width="0.18">250</text>
<text x="115.50" y="347.60" font-size="6.72" text-anchor="middle" stroke="#231f20" stroke-width="0.18">0</text>
<text x="85.50" y="359.10" font-size="6.72" text-anchor="middle" stroke="#231f20" stroke-width="0.18">0</text>
<text x="100.50" y="359.10" font-size="6.72" text-anchor="middle" stroke="#231f20" stroke-width="0.18">0</text>
<text x="115.50" y="359.10" font-size="6.72" text-anchor="middle" stroke="#231f20" stroke-width="0.18">10</text>
<text x="69.00" y="369.00" font-size="6.72" text-anchor="end" textLength="19.00" lengthAdjust="spacingAndGlyphs" stroke="#231f20" stroke-width="0.18">IB: Ikzf1</text>
<text x="70.20" y="387.40" font-size="6.72" text-anchor="end" textLength="22.00" lengthAdjust="spacingAndGlyphs" stroke="#231f20" stroke-width="0.18">IB: Ck1α</text>
<text x="70.20" y="402.60" font-size="6.72" text-anchor="end" textLength="22.00" lengthAdjust="spacingAndGlyphs" stroke="#231f20" stroke-width="0.18">IB: Actin</text>
<rect x="80.8" y="361.8" width="44.0" height="13.2" fill="#e6e6e6" filter="url(#bl)"/>
<rect x="80.8" y="380.8" width="44.0" height="8.8" fill="#ebebeb" filter="url(#bl)"/>
<rect x="81.3" y="362" width="14.6" height="5" fill="#999" fill-opacity="0.5" filter="url(#b3)"/>
<rect x="81.30" y="365.60" width="14.60" height="8.40" rx="2.20" fill="#222" fill-opacity="1" filter="url(#bl)"/>
<rect x="95.90" y="367.60" width="14.20" height="6.40" rx="2.00" fill="#707070" fill-opacity="1" filter="url(#bl)"/>
<rect x="111.10" y="366.80" width="13.80" height="7.20" rx="2.40" fill="#7a7a7a" fill-opacity="1" filter="url(#bl)"/>
<rect x="114.00" y="368.60" width="8.00" height="3.60" rx="1.50" fill="#686868" fill-opacity="0.8" filter="url(#bl)"/>
<rect x="81.50" y="383.70" width="14.60" height="4.20" rx="1.50" fill="#262626" fill-opacity="1" filter="url(#bl)"/>
<rect x="96.50" y="384.60" width="13.00" height="3.00" rx="1.30" fill="#555" fill-opacity="0.9" filter="url(#bl)"/>
<rect x="112.00" y="384.90" width="12.00" height="2.20" rx="1.00" fill="#ccc" fill-opacity="0.7" filter="url(#bl)"/>
<rect x="80.90" y="401.60" width="15.00" height="5.60" rx="2.20" fill="#151515" fill-opacity="1" filter="url(#bl)"/>
<rect x="95.90" y="402.40" width="14.60" height="5.00" rx="2.00" fill="#1a1a1a" fill-opacity="1" filter="url(#bl)"/>
<rect x="110.60" y="401.90" width="14.00" height="4.60" rx="2.00" fill="#1a1a1a" fill-opacity="1" filter="url(#bl)"/>
<text x="173.00" y="319.10" font-size="11.42" textLength="7.20" lengthAdjust="spacingAndGlyphs" stroke="#231f20" stroke-width="0.3">H</text>
<line x1="211.90" y1="333.00" x2="211.90" y2="403.65" stroke="#231f20" stroke-width="1.4"/>
<line x1="209.00" y1="403.05" x2="212.00" y2="403.05" stroke="#231f20" stroke-width="0.8"/>
<text x="206.50" y="404.95" font-size="6.05" text-anchor="end" stroke="#231f20" stroke-width="0.18">0</text>
<line x1="209.00" y1="380.38" x2="212.00" y2="380.38" stroke="#231f20" stroke-width="0.8"/>
<text x="206.50" y="382.28" font-size="6.05" text-anchor="end" stroke="#231f20" stroke-width="0.18">200</text>
<line x1="209.00" y1="357.72" x2="212.00" y2="357.72" stroke="#231f20" stroke-width="0.8"/>
<text x="206.50" y="359.62" font-size="6.05" text-anchor="end" stroke="#231f20" stroke-width="0.18">400</text>
<line x1="209.00" y1="335.05" x2="212.00" y2="335.05" stroke="#231f20" stroke-width="0.8"/>
<text x="206.50" y="336.95" font-size="6.05" text-anchor="end" stroke="#231f20" stroke-width="0.18">600</text>
<line x1="211.30" y1="403.05" x2="313.70" y2="403.05" stroke="#231f20" stroke-width="1.4"/>
<line x1="229.00" y1="403.05" x2="229.00" y2="405.45" stroke="#231f20" stroke-width="0.8"/>
<line x1="262.90" y1="403.05" x2="262.90" y2="405.45" stroke="#231f20" stroke-width="0.8"/>
<line x1="296.80" y1="403.05" x2="296.80" y2="405.45" stroke="#231f20" stroke-width="0.8"/>
<text x="242.30" y="330.60" font-size="6.72" textLength="41.20" lengthAdjust="spacingAndGlyphs" stroke="#231f20" stroke-width="0.18">IL-2 Production</text>
<text x="228.90" y="414.60" font-size="6.61" text-anchor="middle" textLength="9.30" lengthAdjust="spacingAndGlyphs" stroke="#231f20" stroke-width="0.18">WT</text>
<text x="249.60" y="414.60" font-size="6.94" textLength="13.00" lengthAdjust="spacingAndGlyphs" stroke="#231f20" stroke-width="0.18">Crbn</text>
<text x="262.70" y="411.00" font-size="3.81" textLength="10.50" lengthAdjust="spacingAndGlyphs" stroke="#231f20" stroke-width="0.06">D391V/+</text>
<text x="279.80" y="414.60" font-size="6.94" textLength="13.00" lengthAdjust="spacingAndGlyphs" stroke="#231f20" stroke-width="0.18">Crbn</text>
<text x="292.90" y="411.00" font-size="3.81" textLength="20.80" lengthAdjust="spacingAndGlyphs" stroke="#231f20" stroke-width="0.06">D391V/D391V</text>
<text x="183.6" y="367.4" font-size="8.0" text-anchor="middle" textLength="73.4" lengthAdjust="spacingAndGlyphs" transform="rotate(-90 183.6 367.4)" fill="#231f20" stroke="#231f20" stroke-width="0.15">mIL-2 in supernatant</text>
<text x="190.3" y="367.4" font-size="8.0" text-anchor="middle" textLength="47.4" lengthAdjust="spacingAndGlyphs" transform="rotate(-90 190.3 367.4)" fill="#231f20" stroke="#231f20" stroke-width="0.15">(% of DMSO)</text>
<rect x="215.00" y="391.72" width="3.90" height="11.33" fill="#2c4d8a"/>
<line x1="216.95" y1="391.26" x2="216.95" y2="391.72" stroke="#111" stroke-width="0.8"/>
<line x1="215.60" y1="391.26" x2="218.30" y2="391.26" stroke="#111" stroke-width="0.8"/>
<rect x="221.00" y="389.45" width="3.90" height="13.60" fill="#b5123b"/>
<line x1="222.95" y1="387.75" x2="222.95" y2="389.45" stroke="#111" stroke-width="0.8"/>
<line x1="221.60" y1="387.75" x2="224.30" y2="387.75" stroke="#111" stroke-width="0.8"/>
<rect x="227.00" y="392.85" width="3.90" height="10.20" fill="#6cb443"/>
<line x1="228.95" y1="392.40" x2="228.95" y2="392.85" stroke="#111" stroke-width="0.8"/>
<line x1="227.60" y1="392.40" x2="230.30" y2="392.40" stroke="#111" stroke-width="0.8"/>
<rect x="233.00" y="393.08" width="3.90" height="9.97" fill="#4b1f70"/>
<line x1="234.95" y1="391.94" x2="234.95" y2="393.08" stroke="#111" stroke-width="0.8"/>
<line x1="233.60" y1="391.94" x2="236.30" y2="391.94" stroke="#111" stroke-width="0.8"/>
<rect x="239.00" y="392.28" width="3.90" height="10.77" fill="#e8961e"/>
<line x1="240.95" y1="391.15" x2="240.95" y2="392.28" stroke="#111" stroke-width="0.8"/>
<line x1="239.60" y1="391.15" x2="242.30" y2="391.15" stroke="#111" stroke-width="0.8"/>
<rect x="249.00" y="391.72" width="3.90" height="11.33" fill="#2c4d8a"/>
<line x1="250.95" y1="391.26" x2="250.95" y2="391.72" stroke="#111" stroke-width="0.8"/>
<line x1="249.60" y1="391.26" x2="252.30" y2="391.26" stroke="#111" stroke-width="0.8"/>
<rect x="255.00" y="386.05" width="3.90" height="17.00" fill="#b5123b"/>
<line x1="256.95" y1="384.92" x2="256.95" y2="386.05" stroke="#111" stroke-width="0.8"/>
<line x1="255.60" y1="384.92" x2="258.30" y2="384.92" stroke="#111" stroke-width="0.8"/>
<rect x="261.00" y="376.42" width="3.90" height="26.63" fill="#6cb443"/>
<line x1="262.95" y1="375.85" x2="262.95" y2="376.42" stroke="#111" stroke-width="0.8"/>
<line x1="261.60" y1="375.85" x2="264.30" y2="375.85" stroke="#111" stroke-width="0.8"/>
<rect x="267.00" y="372.68" width="3.90" height="30.37" fill="#4b1f70"/>
<line x1="268.95" y1="372.11" x2="268.95" y2="372.68" stroke="#111" stroke-width="0.8"/>
<line x1="267.60" y1="372.11" x2="270.30" y2="372.11" stroke="#111" stroke-width="0.8"/>
<rect x="273.00" y="366.56" width="3.90" height="36.49" fill="#e8961e"/>
<line x1="274.95" y1="365.99" x2="274.95" y2="366.56" stroke="#111" stroke-width="0.8"/>
<line x1="273.60" y1="365.99" x2="276.30" y2="365.99" stroke="#111" stroke-width="0.8"/>
<rect x="283.00" y="391.72" width="3.90" height="11.33" fill="#2c4d8a"/>
<line x1="284.95" y1="391.26" x2="284.95" y2="391.72" stroke="#111" stroke-width="0.8"/>
<line x1="283.60" y1="391.26" x2="286.30" y2="391.26" stroke="#111" stroke-width="0.8"/>
<rect x="289.00" y="374.15" width="3.90" height="28.90" fill="#b5123b"/>
<line x1="290.95" y1="373.58" x2="290.95" y2="374.15" stroke="#111" stroke-width="0.8"/>
<line x1="289.60" y1="373.58" x2="292.30" y2="373.58" stroke="#111" stroke-width="0.8"/>
<rect x="295.00" y="379.82" width="3.90" height="23.23" fill="#6cb443"/>
<line x1="296.95" y1="379.25" x2="296.95" y2="379.82" stroke="#111" stroke-width="0.8"/>
<line x1="295.60" y1="379.25" x2="298.30" y2="379.25" stroke="#111" stroke-width="0.8"/>
<rect x="301.00" y="342.98" width="3.90" height="60.07" fill="#4b1f70"/>
<line x1="302.95" y1="342.53" x2="302.95" y2="342.98" stroke="#111" stroke-width="0.8"/>
<line x1="301.60" y1="342.53" x2="304.30" y2="342.53" stroke="#111" stroke-width="0.8"/>
<rect x="307.00" y="343.32" width="3.90" height="59.73" fill="#e8961e"/>
<line x1="308.95" y1="342.87" x2="308.95" y2="343.32" stroke="#111" stroke-width="0.8"/>
<line x1="307.60" y1="342.87" x2="310.30" y2="342.87" stroke="#111" stroke-width="0.8"/>
<rect x="329.10" y="338.30" width="7.50" height="3.20" fill="#2c4d8a"/>
<text x="339.10" y="342.10" font-size="7.17" textLength="16.60" lengthAdjust="spacingAndGlyphs" stroke="#231f20" stroke-width="0.18">DMSO</text>
<rect x="329.10" y="348.60" width="7.50" height="3.20" fill="#b5123b"/>
<text x="339.10" y="352.40" font-size="7.17" textLength="24.00" lengthAdjust="spacingAndGlyphs" stroke="#231f20" stroke-width="0.18">Len 1 µM</text>
<rect x="329.10" y="358.70" width="7.50" height="3.20" fill="#6cb443"/>
<text x="339.10" y="362.50" font-size="7.17" textLength="27.90" lengthAdjust="spacingAndGlyphs" stroke="#231f20" stroke-width="0.18">Len 10 µM</text>
<rect x="329.10" y="369.00" width="7.50" height="3.20" fill="#4b1f70"/>
<text x="339.10" y="372.80" font-size="7.17" textLength="25.70" lengthAdjust="spacingAndGlyphs" stroke="#231f20" stroke-width="0.18">Pom1 µM</text>
<rect x="329.10" y="379.80" width="7.50" height="3.20" fill="#e8961e"/>
<text x="339.10" y="383.60" font-size="7.17" textLength="29.00" lengthAdjust="spacingAndGlyphs" stroke="#231f20" stroke-width="0.18">Pom10 µM</text>
<rect x="0.00" y="0.00" width="520.00" height="1.20" fill="#1c1c1c"/>
<rect x="0.00" y="0.00" width="1.10" height="422.00" fill="#111"/>
<rect x="518.70" y="0.00" width="1.30" height="422.00" fill="#222"/>
<rect x="0.00" y="420.40" width="520.00" height="1.60" fill="#333"/>
</svg>
</body></html>
